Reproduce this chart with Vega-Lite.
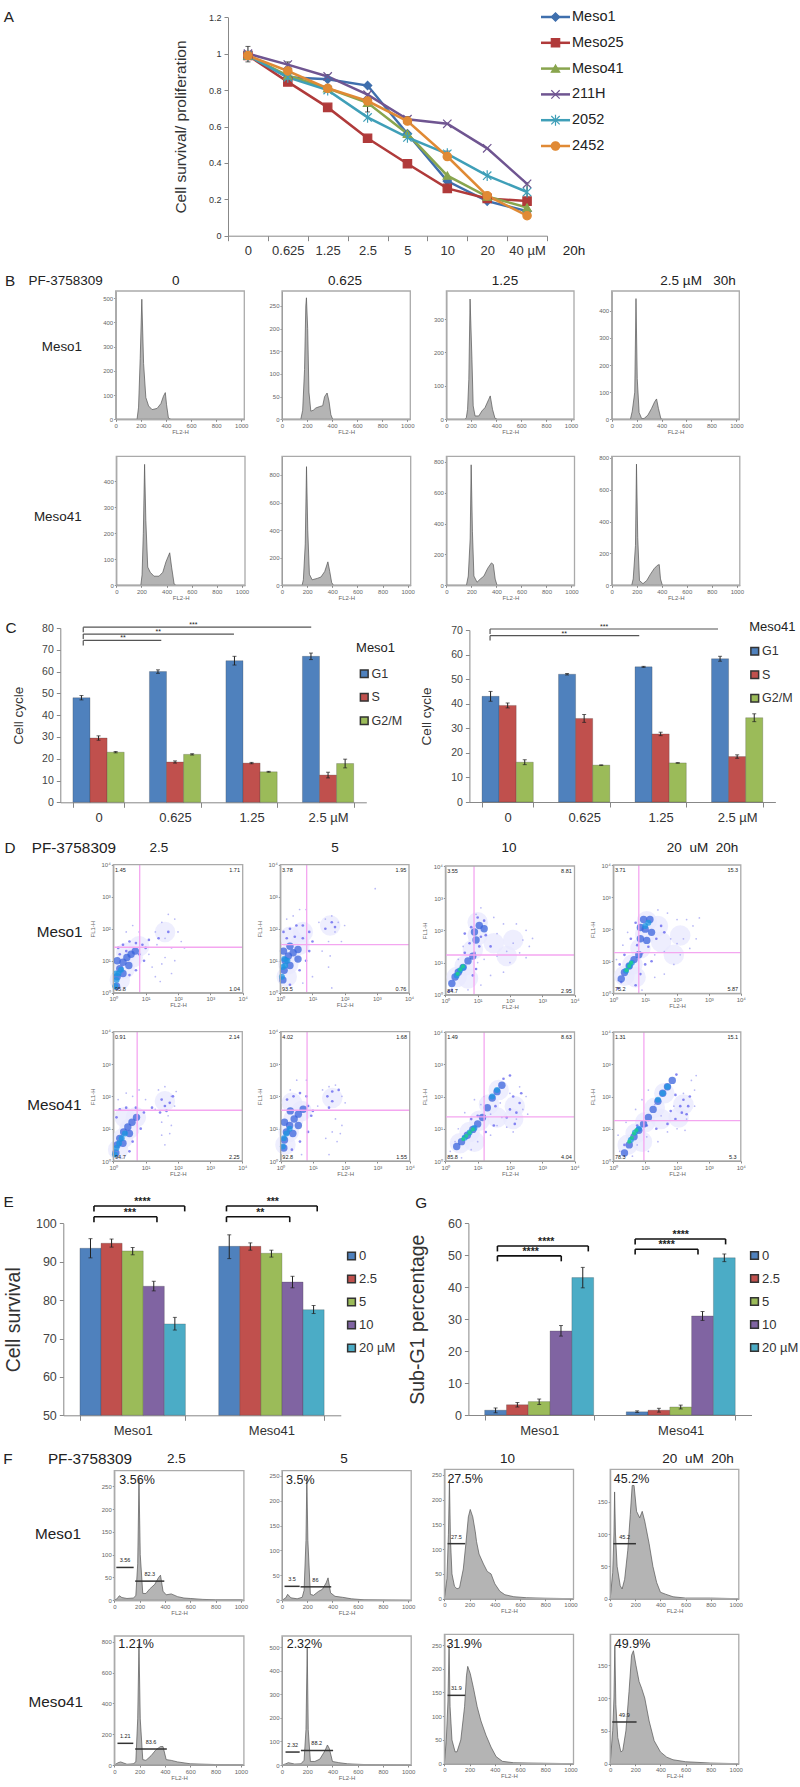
{"$schema":"https://vega.github.io/schema/vega-lite/v6.json","width":800,"height":1787,"autosize":"none","padding":0,"background":"white",
"data":{"values":[{}]},
"config":{"view":{"stroke":null},"font":"Liberation Sans","numberFormat":"~r","axis":{"grid":false,"domainColor":"#888","tickColor":"#888","labelColor":"#444","titleFontWeight":"normal","titleColor":"#333","labelOverlap":false,"labelFlush":false},"text":{"fill":"#222"},
"style":{"hx":{"labelFontSize":6,"labelColor":"#666","tickSize":2,"labelPadding":1,"titleFontSize":6,"titleColor":"#666","titlePadding":0},
"ax":{"labelFontSize":13,"labelColor":"#333","tickSize":5,"labelPadding":4,"labelAngle":0},
"cy":{"labelFontSize":10.5,"labelColor":"#444","tickSize":4,"labelPadding":3,"titleFontSize":13.5},
"ey":{"labelFontSize":12.5,"labelColor":"#444","tickSize":4,"labelPadding":3,"titleFontSize":19.5},
"ay":{"labelFontSize":9,"labelColor":"#333","tickSize":4,"labelPadding":3,"titleFontSize":15.5},
"h17":{"fontSize":13.5},"h19":{"fontSize":15.3},"r17":{"fontSize":13.4,"align":"right"},"r19":{"fontSize":15.3,"align":"right"},"pc":{"fontSize":12.5,"align":"left"},"lg":{"fontSize":13,"align":"left"},"mg":{"fontSize":5.5,"fill":"#ee44ee"},"gt":{"fontSize":5.5,"fill":"#444"},"st":{"fontSize":10.5,"fontWeight":"bold","fill":"#111"},"sc":{"fontSize":7,"fill":"#555"}}},
"resolve":{"scale":{"x":"independent","y":"independent","xOffset":"independent","color":"independent","shape":"independent","fill":"independent","stroke":"independent","size":"independent"},"axis":{"x":"independent","y":"independent"},"legend":{"color":"independent"}},
"datasets":{
"A":[{"c":"0","s":"Meso1","v":0.99},{"c":"0.625","s":"Meso1","v":0.87},{"c":"1.25","s":"Meso1","v":0.86},{"c":"2.5","s":"Meso1","v":0.825},{"c":"5","s":"Meso1","v":0.56},{"c":"10","s":"Meso1","v":0.3},{"c":"20","s":"Meso1","v":0.19},{"c":"40 µM","s":"Meso1","v":0.135},
{"c":"0","s":"Meso25","v":0.99},{"c":"0.625","s":"Meso25","v":0.845},{"c":"1.25","s":"Meso25","v":0.705},{"c":"2.5","s":"Meso25","v":0.535},{"c":"5","s":"Meso25","v":0.395},{"c":"10","s":"Meso25","v":0.26},{"c":"20","s":"Meso25","v":0.205},{"c":"40 µM","s":"Meso25","v":0.19},
{"c":"0","s":"Meso41","v":0.99},{"c":"0.625","s":"Meso41","v":0.88},{"c":"1.25","s":"Meso41","v":0.81},{"c":"2.5","s":"Meso41","v":0.73},{"c":"5","s":"Meso41","v":0.56},{"c":"10","s":"Meso41","v":0.33},{"c":"20","s":"Meso41","v":0.215},{"c":"40 µM","s":"Meso41","v":0.155},
{"c":"0","s":"211H","v":1},{"c":"0.625","s":"211H","v":0.94},{"c":"1.25","s":"211H","v":0.875},{"c":"2.5","s":"211H","v":0.775},{"c":"5","s":"211H","v":0.64},{"c":"10","s":"211H","v":0.615},{"c":"20","s":"211H","v":0.48},{"c":"40 µM","s":"211H","v":0.285},
{"c":"0","s":"2052","v":0.99},{"c":"0.625","s":"2052","v":0.87},{"c":"1.25","s":"2052","v":0.8},{"c":"2.5","s":"2052","v":0.65},{"c":"5","s":"2052","v":0.54},{"c":"10","s":"2052","v":0.45},{"c":"20","s":"2052","v":0.33},{"c":"40 µM","s":"2052","v":0.24},
{"c":"0","s":"2452","v":0.99},{"c":"0.625","s":"2452","v":0.905},{"c":"1.25","s":"2452","v":0.81},{"c":"2.5","s":"2452","v":0.74},{"c":"5","s":"2452","v":0.63},{"c":"10","s":"2452","v":0.435},{"c":"20","s":"2452","v":0.22},{"c":"40 µM","s":"2452","v":0.11}],
"AE":[{"c":"0","lo":0.955,"hi":1.04},{"c":"0.625","lo":0.925,"hi":0.955},{"c":"1.25","lo":0.85,"hi":0.885},{"c":"2.5","lo":0.68,"hi":0.78},{"c":"5","lo":0.62,"hi":0.655},{"c":"10","lo":0.44,"hi":0.465},{"c":"20","lo":0.19,"hi":0.23},{"c":"40 µM","lo":0.1,"hi":0.29}],
"AL":[{"s":"Meso1"},{"s":"Meso25"},{"s":"Meso41"},{"s":"211H"},{"s":"2052"},{"s":"2452"}],
"B1":[{"x":0,"y":0},{"x":170,"y":0},{"x":182,"y":50},{"x":195,"y":250},{"x":208,"y":495},{"x":222,"y":230},{"x":240,"y":90},{"x":262,"y":55},{"x":290,"y":40},{"x":330,"y":45},{"x":360,"y":65},{"x":380,"y":95},{"x":395,"y":110},{"x":405,"y":60},{"x":420,"y":5},{"x":440,"y":0},{"x":1024,"y":0}],
"B2":[{"x":0,"y":0},{"x":150,"y":0},{"x":165,"y":20},{"x":180,"y":110},{"x":190,"y":250},{"x":195,"y":268},{"x":205,"y":200},{"x":215,"y":60},{"x":230,"y":18},{"x":250,"y":20},{"x":270,"y":25},{"x":300,"y":28},{"x":325,"y":30},{"x":340,"y":50},{"x":360,"y":58},{"x":375,"y":40},{"x":390,"y":10},{"x":405,"y":0},{"x":1024,"y":0}],
"B3":[{"x":0,"y":0},{"x":150,"y":0},{"x":160,"y":5},{"x":170,"y":30},{"x":180,"y":120},{"x":190,"y":360},{"x":205,"y":180},{"x":215,"y":40},{"x":230,"y":10},{"x":260,"y":10},{"x":285,"y":25},{"x":310,"y":35},{"x":340,"y":60},{"x":352,"y":70},{"x":370,"y":30},{"x":390,"y":3},{"x":410,"y":0},{"x":1024,"y":0}],
"B4":[{"x":0,"y":0},{"x":150,"y":0},{"x":165,"y":30},{"x":185,"y":100},{"x":195,"y":445},{"x":205,"y":150},{"x":220,"y":25},{"x":240,"y":3},{"x":260,"y":3},{"x":290,"y":15},{"x":320,"y":40},{"x":345,"y":65},{"x":360,"y":75},{"x":375,"y":40},{"x":395,"y":2},{"x":410,"y":0},{"x":1024,"y":0}],
"B5":[{"x":0,"y":0},{"x":195,"y":0},{"x":205,"y":40},{"x":215,"y":200},{"x":225,"y":465},{"x":235,"y":250},{"x":250,"y":70},{"x":270,"y":50},{"x":300,"y":35},{"x":340,"y":35},{"x":370,"y":50},{"x":395,"y":90},{"x":425,"y":125},{"x":440,"y":70},{"x":460,"y":5},{"x":475,"y":0},{"x":1024,"y":0}],
"B6":[{"x":0,"y":0},{"x":160,"y":0},{"x":170,"y":40},{"x":185,"y":300},{"x":195,"y":860},{"x":205,"y":400},{"x":218,"y":80},{"x":240,"y":40},{"x":280,"y":50},{"x":310,"y":60},{"x":340,"y":100},{"x":365,"y":170},{"x":380,"y":100},{"x":395,"y":20},{"x":410,"y":0},{"x":1024,"y":0}],
"B7":[{"x":0,"y":0},{"x":160,"y":0},{"x":175,"y":60},{"x":190,"y":300},{"x":198,"y":780},{"x":208,"y":350},{"x":220,"y":60},{"x":245,"y":20},{"x":270,"y":40},{"x":300,"y":60},{"x":330,"y":110},{"x":360,"y":145},{"x":375,"y":135},{"x":390,"y":40},{"x":405,"y":0},{"x":1024,"y":0}],
"B8":[{"x":0,"y":0},{"x":160,"y":0},{"x":172,"y":40},{"x":190,"y":250},{"x":198,"y":760},{"x":208,"y":300},{"x":222,"y":30},{"x":250,"y":10},{"x":280,"y":30},{"x":310,"y":70},{"x":340,"y":105},{"x":365,"y":125},{"x":380,"y":130},{"x":390,"y":40},{"x":405,"y":0},{"x":1024,"y":0}],
"F1":[{"x":0,"y":0},{"x":20,"y":3},{"x":40,"y":10},{"x":60,"y":6},{"x":100,"y":4},{"x":150,"y":5},{"x":170,"y":10},{"x":185,"y":80},{"x":195,"y":264},{"x":205,"y":100},{"x":225,"y":15},{"x":250,"y":15},{"x":280,"y":25},{"x":320,"y":35},{"x":350,"y":50},{"x":365,"y":55},{"x":385,"y":20},{"x":410,"y":12},{"x":450,"y":14},{"x":500,"y":8},{"x":550,"y":5},{"x":600,"y":4},{"x":700,"y":2},{"x":800,"y":1},{"x":1000,"y":1},{"x":1024,"y":0}],
"F2":[{"x":0,"y":0},{"x":30,"y":5},{"x":45,"y":12},{"x":70,"y":5},{"x":120,"y":3},{"x":160,"y":6},{"x":175,"y":20},{"x":190,"y":120},{"x":197,"y":245},{"x":205,"y":120},{"x":225,"y":12},{"x":250,"y":10},{"x":290,"y":18},{"x":320,"y":22},{"x":350,"y":35},{"x":365,"y":45},{"x":385,"y":15},{"x":420,"y":8},{"x":480,"y":6},{"x":550,"y":3},{"x":650,"y":1},{"x":1024,"y":0}],
"F3":[{"x":0,"y":0},{"x":20,"y":40},{"x":32,"y":130},{"x":40,"y":240},{"x":48,"y":120},{"x":60,"y":50},{"x":80,"y":25},{"x":100,"y":20},{"x":120,"y":22},{"x":150,"y":60},{"x":170,"y":110},{"x":190,"y":165},{"x":205,"y":180},{"x":225,"y":165},{"x":245,"y":135},{"x":255,"y":115},{"x":275,"y":90},{"x":310,"y":70},{"x":340,"y":55},{"x":370,"y":50},{"x":400,"y":30},{"x":440,"y":15},{"x":480,"y":8},{"x":550,"y":4},{"x":650,"y":2},{"x":800,"y":1},{"x":1024,"y":0}],
"F4":[{"x":0,"y":0},{"x":20,"y":40},{"x":30,"y":100},{"x":35,"y":165},{"x":42,"y":100},{"x":55,"y":50},{"x":80,"y":20},{"x":95,"y":15},{"x":115,"y":30},{"x":140,"y":75},{"x":160,"y":130},{"x":175,"y":175},{"x":190,"y":175},{"x":210,"y":135},{"x":235,"y":125},{"x":255,"y":135},{"x":275,"y":120},{"x":310,"y":85},{"x":340,"y":50},{"x":370,"y":25},{"x":400,"y":10},{"x":440,"y":7},{"x":500,"y":3},{"x":600,"y":1},{"x":800,"y":1},{"x":1024,"y":0}],
"F5":[{"x":0,"y":0},{"x":30,"y":15},{"x":50,"y":20},{"x":100,"y":5},{"x":150,"y":8},{"x":170,"y":20},{"x":185,"y":300},{"x":195,"y":790},{"x":205,"y":300},{"x":225,"y":35},{"x":250,"y":30},{"x":290,"y":60},{"x":330,"y":100},{"x":365,"y":120},{"x":385,"y":120},{"x":410,"y":35},{"x":450,"y":30},{"x":500,"y":20},{"x":600,"y":8},{"x":800,"y":3},{"x":1000,"y":2},{"x":1024,"y":0}],
"F6":[{"x":0,"y":0},{"x":30,"y":5},{"x":50,"y":10},{"x":100,"y":4},{"x":150,"y":5},{"x":175,"y":20},{"x":190,"y":150},{"x":200,"y":500},{"x":208,"y":150},{"x":225,"y":15},{"x":260,"y":15},{"x":300,"y":25},{"x":340,"y":60},{"x":360,"y":85},{"x":375,"y":70},{"x":400,"y":15},{"x":450,"y":10},{"x":520,"y":5},{"x":650,"y":2},{"x":1024,"y":0}],
"F7":[{"x":0,"y":0},{"x":15,"y":50},{"x":28,"y":130},{"x":37,"y":250},{"x":45,"y":120},{"x":60,"y":50},{"x":85,"y":25},{"x":100,"y":25},{"x":130,"y":50},{"x":160,"y":120},{"x":175,"y":185},{"x":185,"y":205},{"x":205,"y":190},{"x":230,"y":160},{"x":260,"y":120},{"x":290,"y":90},{"x":330,"y":60},{"x":370,"y":35},{"x":410,"y":15},{"x":460,"y":5},{"x":550,"y":2},{"x":1024,"y":0}],
"F8":[{"x":0,"y":0},{"x":20,"y":50},{"x":30,"y":100},{"x":37,"y":180},{"x":45,"y":90},{"x":60,"y":40},{"x":85,"y":18},{"x":100,"y":20},{"x":125,"y":50},{"x":150,"y":110},{"x":170,"y":165},{"x":185,"y":172},{"x":205,"y":150},{"x":230,"y":125},{"x":250,"y":115},{"x":275,"y":100},{"x":310,"y":65},{"x":350,"y":35},{"x":400,"y":18},{"x":450,"y":10},{"x":500,"y":6},{"x":600,"y":3},{"x":800,"y":1},{"x":1024,"y":0}],
"C1":[{"c":"0","s":"G1","v":48,"lo":47,"hi":49},{"c":"0","s":"S","v":29.5,"lo":28.5,"hi":30.5},{"c":"0","s":"G2/M","v":23,"lo":22.7,"hi":23.3},{"c":"0.625","s":"G1","v":60,"lo":59.2,"hi":60.8},{"c":"0.625","s":"S","v":18.5,"lo":18,"hi":19},{"c":"0.625","s":"G2/M","v":22,"lo":21.7,"hi":22.3},{"c":"1.25","s":"G1","v":65,"lo":63,"hi":67},{"c":"1.25","s":"S","v":18,"lo":17.7,"hi":18.3},{"c":"1.25","s":"G2/M","v":14,"lo":13.8,"hi":14.2},{"c":"2.5 µM","s":"G1","v":67,"lo":65.5,"hi":68.5},{"c":"2.5 µM","s":"S","v":12.5,"lo":11.2,"hi":13.8},{"c":"2.5 µM","s":"G2/M","v":17.8,"lo":15.8,"hi":19.8}],
"C2":[{"c":"0","s":"G1","v":43,"lo":41,"hi":45},{"c":"0","s":"S","v":39.3,"lo":38.3,"hi":40.3},{"c":"0","s":"G2/M","v":16.2,"lo":15.2,"hi":17.2},{"c":"0.625","s":"G1","v":52,"lo":51.7,"hi":52.3},{"c":"0.625","s":"S","v":34,"lo":32.4,"hi":35.6},{"c":"0.625","s":"G2/M","v":15,"lo":14.9,"hi":15.1},{"c":"1.25","s":"G1","v":55,"lo":54.8,"hi":55.2},{"c":"1.25","s":"S","v":27.7,"lo":27,"hi":28.4},{"c":"1.25","s":"G2/M","v":15.9,"lo":15.8,"hi":16},{"c":"2.5 µM","s":"G1","v":58.3,"lo":57.3,"hi":59.3},{"c":"2.5 µM","s":"S","v":18.5,"lo":17.8,"hi":19.2},{"c":"2.5 µM","s":"G2/M","v":34.3,"lo":32.7,"hi":35.9}],
"E":[{"c":"Meso1","s":"0","v":93.5,"lo":91,"hi":96},{"c":"Meso1","s":"2.5","v":94.8,"lo":93.8,"hi":95.9},{"c":"Meso1","s":"5","v":92.8,"lo":91.8,"hi":93.7},{"c":"Meso1","s":"10","v":83.6,"lo":82.4,"hi":84.9},{"c":"Meso1","s":"20 µM","v":73.8,"lo":72.2,"hi":75.5},{"c":"Meso41","s":"0","v":94,"lo":90.8,"hi":97},{"c":"Meso41","s":"2.5","v":94,"lo":93,"hi":94.9},{"c":"Meso41","s":"5","v":92.2,"lo":91.2,"hi":93},{"c":"Meso41","s":"10","v":84.7,"lo":83.2,"hi":86.2},{"c":"Meso41","s":"20 µM","v":77.5,"lo":76.5,"hi":78.6}],
"G":[{"c":"Meso1","s":"0","v":1.5,"lo":0.7,"hi":2.2},{"c":"Meso1","s":"2.5","v":3.2,"lo":2.5,"hi":3.9},{"c":"Meso1","s":"5","v":4.2,"lo":3.3,"hi":5},{"c":"Meso1","s":"10","v":26.3,"lo":24.7,"hi":28},{"c":"Meso1","s":"20 µM","v":43,"lo":39.8,"hi":46.2},{"c":"Meso41","s":"0","v":1,"lo":0.8,"hi":1.3},{"c":"Meso41","s":"2.5","v":1.5,"lo":0.9,"hi":2.1},{"c":"Meso41","s":"5","v":2.5,"lo":1.9,"hi":3.1},{"c":"Meso41","s":"10","v":31,"lo":29.6,"hi":32.4},{"c":"Meso41","s":"20 µM","v":49.2,"lo":48,"hi":50.4}],
"D1":[{"x":0.2,"y":0.4,"d":0},{"x":0.35,"y":0.75,"d":0},{"x":0.6,"y":1.1,"d":0},{"x":0.4,"y":1.25,"d":0},{"x":0.8,"y":1.45,"d":0},{"x":1.6,"y":1.9,"d":0},
{"x":1.3,"y":1.9,"d":1},{"x":1.5,"y":2.2,"d":1},{"x":1.7,"y":2.45,"d":1},{"x":1.9,"y":2.3,"d":1},{"x":1.6,"y":1.7,"d":1},{"x":2,"y":1.9,"d":1},{"x":1.35,"y":1.5,"d":1},{"x":1.8,"y":1.4,"d":1},{"x":2.1,"y":1.6,"d":1},{"x":1.5,"y":0.9,"d":1},{"x":1.3,"y":0.5,"d":1},{"x":1.8,"y":0.6,"d":1},{"x":1.9,"y":1,"d":1},{"x":1.1,"y":1.2,"d":1},{"x":2.2,"y":1.4,"d":1},{"x":1.2,"y":0.8,"d":1},{"x":0.6,"y":2.1,"d":1},{"x":0.4,"y":1.9,"d":1},{"x":0.8,"y":1.9,"d":1},{"x":1.6,"y":1.1,"d":1},{"x":1.45,"y":0.35,"d":1},
{"x":0.15,"y":1.4,"d":2},{"x":0.3,"y":1.5,"d":2},{"x":0.5,"y":1.6,"d":2},{"x":0.7,"y":1.55,"d":2},{"x":0.9,"y":1.5,"d":2},{"x":0.2,"y":1.2,"d":2},{"x":0.4,"y":1.3,"d":2},{"x":0.8,"y":1.2,"d":2},{"x":1,"y":1.4,"d":2},{"x":1.4,"y":1.7,"d":2},{"x":1.7,"y":1.9,"d":2},{"x":0.95,"y":1,"d":2},{"x":0.7,"y":0.7,"d":2},{"x":0.5,"y":0.55,"d":2},{"x":1.1,"y":1.65,"d":2},
{"x":0.1,"y":0.2,"d":3},{"x":0.12,"y":0.5,"d":3},{"x":0.2,"y":0.75,"d":3},{"x":0.3,"y":0.95,"d":3},{"x":0.42,"y":1.1,"d":3},{"x":0.55,"y":1.2,"d":3},{"x":0.68,"y":1.3,"d":3},{"x":0.3,"y":0.6,"d":3},{"x":0.48,"y":0.85,"d":3},{"x":0.12,"y":1,"d":3},
{"x":0.06,"y":0.2,"d":4},{"x":0.1,"y":0.4,"d":4},{"x":0.16,"y":0.6,"d":4},{"x":0.24,"y":0.72,"d":4},{"x":0.08,"y":0.6,"d":4}],
"D2":[{"x":0.2,"y":0.5,"d":0},{"x":0.25,"y":0.9,"d":0},{"x":0.35,"y":1.3,"d":0},{"x":0.6,"y":1.5,"d":0},{"x":0.7,"y":1.9,"d":0},{"x":0.3,"y":1.75,"d":0},{"x":1.55,"y":2.1,"d":0},
{"x":1.2,"y":2.2,"d":1},{"x":1.4,"y":2.3,"d":1},{"x":1.6,"y":2.4,"d":1},{"x":1.8,"y":2.2,"d":1},{"x":2,"y":2.1,"d":1},{"x":1.7,"y":1.9,"d":1},{"x":1.5,"y":1.6,"d":1},{"x":1.3,"y":1.3,"d":1},{"x":1.5,"y":0.8,"d":1},{"x":1,"y":0.5,"d":1},{"x":1.6,"y":0.15,"d":1},{"x":2.95,"y":3.25,"d":1},{"x":0.8,"y":2.6,"d":1},{"x":0.4,"y":2.4,"d":1},{"x":0.2,"y":2.3,"d":1},{"x":0.7,"y":0.3,"d":1},{"x":1.9,"y":1.6,"d":1},{"x":0.6,"y":2.6,"d":1},{"x":1.55,"y":1.15,"d":1},
{"x":0.1,"y":1.9,"d":2},{"x":0.3,"y":2,"d":2},{"x":0.5,"y":2.1,"d":2},{"x":0.7,"y":2.1,"d":2},{"x":0.9,"y":1.9,"d":2},{"x":0.2,"y":1.7,"d":2},{"x":0.45,"y":1.75,"d":2},{"x":0.7,"y":1.7,"d":2},{"x":1,"y":1.6,"d":2},{"x":0.9,"y":1.3,"d":2},{"x":1.4,"y":2,"d":2},{"x":1.7,"y":2.05,"d":2},{"x":1.6,"y":2.2,"d":2},{"x":0.8,"y":1,"d":2},{"x":0.6,"y":0.7,"d":2},{"x":0.3,"y":0.25,"d":2},
{"x":0.08,"y":0.4,"d":3},{"x":0.12,"y":0.7,"d":3},{"x":0.15,"y":1,"d":3},{"x":0.25,"y":1.15,"d":3},{"x":0.4,"y":1.25,"d":3},{"x":0.55,"y":1.35,"d":3},{"x":0.3,"y":0.85,"d":3},{"x":0.1,"y":1.3,"d":3},{"x":0.3,"y":1.45,"d":3},{"x":0.55,"y":1.05,"d":3},
{"x":0.05,"y":0.5,"d":4},{"x":0.08,"y":0.8,"d":4},{"x":0.15,"y":0.85,"d":4},{"x":0.22,"y":1,"d":4},{"x":0.12,"y":1.05,"d":4}],
"D3":[{"x":0.35,"y":0.55,"d":0},{"x":0.6,"y":0.9,"d":0},{"x":0.85,"y":1.4,"d":0},{"x":1,"y":1.85,"d":0},{"x":1,"y":2.25,"d":0},{"x":1.5,"y":1.6,"d":0},{"x":2.1,"y":1.7,"d":0},{"x":1.9,"y":1.2,"d":0},{"x":0.7,"y":0.5,"d":0},
{"x":1.5,"y":2.4,"d":1},{"x":1.1,"y":2.7,"d":1},{"x":0.95,"y":2.5,"d":1},{"x":1.8,"y":2.2,"d":1},{"x":2.2,"y":2.2,"d":1},{"x":2.5,"y":2,"d":1},{"x":2.6,"y":1.5,"d":1},{"x":2.3,"y":1.3,"d":1},{"x":2,"y":1,"d":1},{"x":1.8,"y":0.7,"d":1},{"x":1.4,"y":0.6,"d":1},{"x":1.1,"y":0.3,"d":1},{"x":0.7,"y":0.15,"d":1},{"x":0.55,"y":1.5,"d":1},{"x":0.4,"y":1.1,"d":1},{"x":1.6,"y":1.9,"d":1},{"x":2.7,"y":1.75,"d":1},{"x":2.4,"y":1.7,"d":1},{"x":1.6,"y":1.2,"d":1},{"x":2.1,"y":1.6,"d":1},{"x":1.2,"y":1.1,"d":1},{"x":1.9,"y":1.35,"d":1},{"x":2.5,"y":1.15,"d":1},{"x":1,"y":1,"d":1},
{"x":0.6,"y":1.9,"d":2},{"x":0.8,"y":2.1,"d":2},{"x":0.75,"y":1.6,"d":2},{"x":1,"y":2.4,"d":2},{"x":1.2,"y":2.3,"d":2},{"x":1.25,"y":1.85,"d":2},{"x":1.05,"y":1.5,"d":2},{"x":0.9,"y":1.3,"d":2},{"x":1.1,"y":1.8,"d":2},{"x":0.95,"y":0.8,"d":2},{"x":0.1,"y":0.1,"d":2},{"x":0.2,"y":0.15,"d":2},{"x":0.85,"y":0.6,"d":2},{"x":1.4,"y":1.5,"d":2},{"x":0.6,"y":1.3,"d":2},
{"x":0.2,"y":0.35,"d":3},{"x":0.3,"y":0.55,"d":3},{"x":0.4,"y":0.7,"d":3},{"x":0.55,"y":0.85,"d":3},{"x":0.7,"y":1.05,"d":3},{"x":0.85,"y":1.2,"d":3},{"x":0.9,"y":1.95,"d":3},{"x":1.05,"y":2.15,"d":3},{"x":1.2,"y":2.05,"d":3},{"x":0.95,"y":1.7,"d":3},
{"x":0.35,"y":0.6,"d":4},{"x":0.45,"y":0.75,"d":4},{"x":0.55,"y":0.85,"d":4},{"x":0.38,"y":0.65,"d":5},{"x":0.46,"y":0.78,"d":5},{"x":0.54,"y":0.88,"d":5}],
"D4":[{"x":0.35,"y":0.55,"d":0},{"x":0.6,"y":0.9,"d":0},{"x":0.85,"y":1.4,"d":0},{"x":1,"y":1.85,"d":0},{"x":1.05,"y":2.25,"d":0},{"x":1.5,"y":1.6,"d":0},{"x":2.1,"y":1.8,"d":0},{"x":1.9,"y":1.2,"d":0},{"x":0.7,"y":0.5,"d":0},{"x":1.4,"y":2.1,"d":0},
{"x":1.4,"y":2.6,"d":1},{"x":1.7,"y":2.5,"d":1},{"x":2,"y":2.3,"d":1},{"x":2.3,"y":2.3,"d":1},{"x":2.5,"y":2.1,"d":1},{"x":2.6,"y":1.7,"d":1},{"x":2.4,"y":1.4,"d":1},{"x":2.1,"y":1.2,"d":1},{"x":1.9,"y":0.9,"d":1},{"x":1.6,"y":0.6,"d":1},{"x":1.3,"y":0.5,"d":1},{"x":0.9,"y":0.1,"d":1},{"x":0.3,"y":1.5,"d":1},{"x":0.45,"y":1.9,"d":1},{"x":1.8,"y":1.7,"d":1},{"x":2.2,"y":1.7,"d":1},{"x":1.6,"y":1.3,"d":1},{"x":1.3,"y":1.2,"d":1},{"x":2.7,"y":2.35,"d":1},{"x":2,"y":1.55,"d":1},{"x":0.1,"y":1.05,"d":1},{"x":0.15,"y":0.4,"d":1},
{"x":0.7,"y":2.2,"d":2},{"x":0.55,"y":1.7,"d":2},{"x":0.75,"y":1.5,"d":2},{"x":1.5,"y":2.1,"d":2},{"x":1.35,"y":1.7,"d":2},{"x":1.1,"y":1.45,"d":2},{"x":0.9,"y":1.25,"d":2},{"x":1,"y":0.9,"d":2},{"x":0.85,"y":0.6,"d":2},{"x":0.2,"y":0.9,"d":2},{"x":0.15,"y":0.15,"d":2},{"x":0.35,"y":1.2,"d":2},{"x":1.6,"y":1.9,"d":2},{"x":0.7,"y":0.25,"d":2},{"x":1.2,"y":1,"d":2},{"x":0.25,"y":0.35,"d":2},
{"x":0.25,"y":0.45,"d":3},{"x":0.35,"y":0.65,"d":3},{"x":0.5,"y":0.85,"d":3},{"x":0.65,"y":1.05,"d":3},{"x":0.8,"y":1.2,"d":3},{"x":0.85,"y":1.7,"d":3},{"x":1,"y":2,"d":3},{"x":1.15,"y":2.3,"d":3},{"x":1.2,"y":1.9,"d":3},{"x":0.95,"y":2.3,"d":3},{"x":0.85,"y":2.05,"d":3},{"x":1.05,"y":1.65,"d":3},
{"x":0.4,"y":0.7,"d":4},{"x":0.5,"y":0.85,"d":4},{"x":0.58,"y":0.95,"d":4},{"x":1,"y":2.1,"d":4},{"x":1.1,"y":2.2,"d":4},{"x":0.42,"y":0.72,"d":5},{"x":0.5,"y":0.85,"d":5},{"x":0.56,"y":0.95,"d":5}],
"D5":[{"x":0.15,"y":0.35,"d":0},{"x":0.3,"y":0.7,"d":0},{"x":0.5,"y":1,"d":0},{"x":0.7,"y":1.35,"d":0},{"x":0.35,"y":1.35,"d":0},{"x":1.6,"y":1.85,"d":0},
{"x":1.4,"y":2.2,"d":1},{"x":1.6,"y":2.3,"d":1},{"x":1.8,"y":2,"d":1},{"x":1.9,"y":1.7,"d":1},{"x":1.5,"y":1.2,"d":1},{"x":1.7,"y":1.4,"d":1},{"x":1.5,"y":0.8,"d":1},{"x":1.8,"y":1.1,"d":1},{"x":0.6,"y":2,"d":1},{"x":0.4,"y":2.1,"d":1},{"x":0.8,"y":2.2,"d":1},{"x":1.6,"y":0.5,"d":1},{"x":1.3,"y":1.6,"d":1},{"x":1,"y":1.9,"d":1},{"x":1.75,"y":0.85,"d":1},{"x":0.15,"y":1.9,"d":1},{"x":1.95,"y":2.15,"d":1},
{"x":1.5,"y":1.9,"d":2},{"x":1.6,"y":1.7,"d":2},{"x":1.75,"y":1.8,"d":2},{"x":1.85,"y":2,"d":2},{"x":0.2,"y":1.6,"d":2},{"x":0.4,"y":1.65,"d":2},{"x":0.7,"y":1.65,"d":2},{"x":0.95,"y":1.5,"d":2},{"x":1.2,"y":1.65,"d":2},{"x":0.85,"y":1,"d":2},{"x":0.6,"y":0.6,"d":2},{"x":0.5,"y":0.3,"d":2},{"x":0.1,"y":1.35,"d":2},{"x":1.45,"y":1.5,"d":2},{"x":1.65,"y":1.55,"d":2},
{"x":0.08,"y":0.25,"d":3},{"x":0.12,"y":0.5,"d":3},{"x":0.2,"y":0.7,"d":3},{"x":0.32,"y":0.9,"d":3},{"x":0.45,"y":1.05,"d":3},{"x":0.58,"y":1.2,"d":3},{"x":0.72,"y":1.35,"d":3},{"x":0.3,"y":0.55,"d":3},{"x":0.5,"y":0.85,"d":3},
{"x":0.05,"y":0.2,"d":4},{"x":0.1,"y":0.4,"d":4},{"x":0.18,"y":0.55,"d":4},{"x":0.26,"y":0.7,"d":4},{"x":0.36,"y":0.85,"d":4}],
"D6":[{"x":0.15,"y":0.5,"d":0},{"x":0.25,"y":0.9,"d":0},{"x":0.4,"y":1.3,"d":0},{"x":0.65,"y":1.55,"d":0},{"x":0.35,"y":1.8,"d":0},{"x":1.6,"y":1.95,"d":0},
{"x":1.3,"y":2.2,"d":1},{"x":1.5,"y":2.3,"d":1},{"x":1.7,"y":2.35,"d":1},{"x":1.9,"y":2,"d":1},{"x":1.7,"y":1.3,"d":1},{"x":1.9,"y":1.1,"d":1},{"x":1.6,"y":0.9,"d":1},{"x":1.5,"y":0.2,"d":1},{"x":1.4,"y":0.7,"d":1},{"x":0.5,"y":2.5,"d":1},{"x":0.8,"y":2.5,"d":1},{"x":0.3,"y":2.2,"d":1},{"x":1.75,"y":0.6,"d":1},{"x":2,"y":1.8,"d":1},{"x":0.65,"y":0.2,"d":1},{"x":1.15,"y":1.7,"d":1},{"x":1.85,"y":0.85,"d":1},
{"x":1.45,"y":2,"d":2},{"x":1.6,"y":2.15,"d":2},{"x":1.8,"y":2.2,"d":2},{"x":1.6,"y":1.85,"d":2},{"x":0.2,"y":1.9,"d":2},{"x":0.4,"y":2,"d":2},{"x":0.6,"y":2.1,"d":2},{"x":0.8,"y":2,"d":2},{"x":0.85,"y":1.7,"d":2},{"x":0.95,"y":1.4,"d":2},{"x":0.85,"y":0.9,"d":2},{"x":0.6,"y":0.6,"d":2},{"x":0.35,"y":0.35,"d":2},{"x":1.5,"y":1.65,"d":2},{"x":1,"y":1.55,"d":2},
{"x":0.1,"y":0.4,"d":3},{"x":0.12,"y":0.65,"d":3},{"x":0.18,"y":0.9,"d":3},{"x":0.28,"y":1.1,"d":3},{"x":0.42,"y":1.3,"d":3},{"x":0.55,"y":1.45,"d":3},{"x":0.7,"y":1.6,"d":3},{"x":0.12,"y":1.2,"d":3},{"x":0.3,"y":1.55,"d":3},{"x":0.55,"y":1.1,"d":3},{"x":0.38,"y":0.85,"d":3},
{"x":0.07,"y":0.45,"d":4},{"x":0.1,"y":0.7,"d":4},{"x":0.18,"y":0.85,"d":4},{"x":0.28,"y":1,"d":4}],
"D7":[{"x":0.45,"y":0.55,"d":0},{"x":0.75,"y":0.9,"d":0},{"x":1.05,"y":1.25,"d":0},{"x":1.35,"y":1.75,"d":0},{"x":1.65,"y":2.2,"d":0},{"x":2.15,"y":1.7,"d":0},{"x":2.1,"y":1.3,"d":0},{"x":1.6,"y":1.35,"d":0},{"x":0.9,"y":0.6,"d":0},
{"x":0.9,"y":1.9,"d":1},{"x":0.6,"y":1.5,"d":1},{"x":0.4,"y":1,"d":1},{"x":0.15,"y":0.3,"d":1},{"x":0.5,"y":0.1,"d":1},{"x":1,"y":0.6,"d":1},{"x":1.4,"y":0.8,"d":1},{"x":1.6,"y":1.1,"d":1},{"x":1.9,"y":1.05,"d":1},{"x":2.2,"y":1.3,"d":1},{"x":2.4,"y":1.6,"d":1},{"x":2.5,"y":2,"d":1},{"x":2.3,"y":2.3,"d":1},{"x":2,"y":2.1,"d":1},{"x":1.7,"y":1.8,"d":1},{"x":1.4,"y":1.45,"d":1},{"x":1.2,"y":2,"d":1},{"x":2.1,"y":0.9,"d":1},{"x":2.55,"y":1.45,"d":1},{"x":0.8,"y":0.35,"d":1},{"x":0.3,"y":0.6,"d":1},{"x":1.75,"y":1.35,"d":1},{"x":1.1,"y":1.75,"d":1},
{"x":2.1,"y":2,"d":2},{"x":2.3,"y":1.8,"d":2},{"x":2.2,"y":1.5,"d":2},{"x":2,"y":1.6,"d":2},{"x":1.9,"y":1.35,"d":2},{"x":2.35,"y":2.1,"d":2},{"x":1.5,"y":1.1,"d":2},{"x":1.25,"y":0.9,"d":2},{"x":0.8,"y":1.3,"d":2},{"x":0.55,"y":0.75,"d":2},{"x":1,"y":1.4,"d":2},{"x":1.8,"y":2.55,"d":2},{"x":2,"y":2.65,"d":2},{"x":1.55,"y":1.7,"d":2},{"x":2.15,"y":1.15,"d":2},
{"x":0.35,"y":0.45,"d":3},{"x":0.5,"y":0.6,"d":3},{"x":0.68,"y":0.8,"d":3},{"x":0.85,"y":0.98,"d":3},{"x":1,"y":1.15,"d":3},{"x":1.15,"y":1.35,"d":3},{"x":1.3,"y":1.65,"d":3},{"x":1.45,"y":1.95,"d":3},{"x":1.6,"y":2.15,"d":3},{"x":1.75,"y":2.35,"d":3},
{"x":0.6,"y":0.72,"d":4},{"x":0.75,"y":0.88,"d":4},{"x":0.9,"y":1.02,"d":4},{"x":1.45,"y":2,"d":4},{"x":1.6,"y":2.2,"d":4},{"x":0.55,"y":0.68,"d":5},{"x":0.65,"y":0.78,"d":5},{"x":0.75,"y":0.88,"d":5},{"x":0.85,"y":0.98,"d":5}],
"D8":[{"x":0.45,"y":0.5,"d":0},{"x":0.7,"y":0.85,"d":0},{"x":1,"y":1.2,"d":0},{"x":1.3,"y":1.65,"d":0},{"x":1.6,"y":2.1,"d":0},{"x":2.2,"y":1.75,"d":0},{"x":2.05,"y":1.35,"d":0},{"x":1.5,"y":1.3,"d":0},{"x":0.9,"y":0.6,"d":0},
{"x":0.4,"y":1.2,"d":1},{"x":0.7,"y":1.6,"d":1},{"x":0.9,"y":1.9,"d":1},{"x":1.1,"y":2.2,"d":1},{"x":0.2,"y":0.3,"d":1},{"x":0.6,"y":0.15,"d":1},{"x":1.1,"y":0.3,"d":1},{"x":1.4,"y":0.6,"d":1},{"x":1.7,"y":0.9,"d":1},{"x":2,"y":1,"d":1},{"x":2.3,"y":1.3,"d":1},{"x":2.55,"y":1.7,"d":1},{"x":2.55,"y":2.2,"d":1},{"x":2.45,"y":2.5,"d":1},{"x":2.2,"y":2.1,"d":1},{"x":1.9,"y":1.7,"d":1},{"x":1.5,"y":1.4,"d":1},{"x":1.3,"y":1.75,"d":1},{"x":2.6,"y":2.65,"d":1},{"x":1.05,"y":0.75,"d":1},{"x":0.75,"y":0.5,"d":1},{"x":2.25,"y":0.95,"d":1},{"x":0.15,"y":0.8,"d":1},
{"x":2.2,"y":1.9,"d":2},{"x":2.35,"y":1.7,"d":2},{"x":2.15,"y":1.5,"d":2},{"x":1.95,"y":1.3,"d":2},{"x":2.4,"y":2,"d":2},{"x":2.3,"y":1.45,"d":2},{"x":1.7,"y":1.15,"d":2},{"x":1.35,"y":1,"d":2},{"x":1.05,"y":1.1,"d":2},{"x":0.75,"y":1.1,"d":2},{"x":0.55,"y":0.7,"d":2},{"x":0.35,"y":0.5,"d":2},{"x":1.95,"y":2.05,"d":2},{"x":2.1,"y":1.7,"d":2},{"x":1.8,"y":1.55,"d":2},{"x":1.98,"y":2.68,"d":2},
{"x":0.35,"y":0.25,"d":3},{"x":0.5,"y":0.5,"d":3},{"x":0.65,"y":0.75,"d":3},{"x":0.8,"y":0.95,"d":3},{"x":0.95,"y":1.15,"d":3},{"x":1.1,"y":1.35,"d":3},{"x":1.25,"y":1.6,"d":3},{"x":1.4,"y":1.85,"d":3},{"x":1.55,"y":2.1,"d":3},{"x":1.7,"y":2.3,"d":3},{"x":1.85,"y":2.5,"d":3},
{"x":0.55,"y":0.65,"d":4},{"x":0.68,"y":0.88,"d":4},{"x":1.4,"y":1.9,"d":4},{"x":1.55,"y":2.1,"d":4},{"x":1.7,"y":2.3,"d":4},{"x":0.8,"y":1,"d":4},{"x":0.5,"y":0.6,"d":5},{"x":0.58,"y":0.72,"d":5},{"x":0.65,"y":0.85,"d":5},{"x":0.72,"y":0.95,"d":5}]
},
"layer":[
{"layer":[
{"data":{"name":"AE"},"mark":{"type":"errorbar","color":"#222","ticks":{"size":5}},"encoding":{"x":{"field":"c","type":"nominal","sort":null,"scale":{"type":"band","domain":["0","0.625","1.25","2.5","5","10","20","40 µM"],"range":[228,547],"paddingInner":0,"paddingOuter":0},"axis":{"orient":"bottom","offset":-1551.3,"tickBand":"extent","style":"ax","title":null}},"y":{"field":"lo","type":"quantitative","scale":{"domain":[0,1.2],"range":[235.7,17.3],"nice":false},"axis":{"orient":"left","offset":-228,"style":"ay","values":[0,0.2,0.4,0.6,0.8,1,1.2],"title":"Cell survival/ proliferation","titleX":-40}},"y2":{"field":"hi"}}},
{"data":{"name":"A"},"mark":{"type":"line","strokeWidth":2.5},"encoding":{"x":{"field":"c","type":"nominal"},"y":{"field":"v","type":"quantitative"},"color":{"field":"s","type":"nominal","scale":{"domain":["Meso1","Meso25","Meso41","211H","2052","2452"],"range":["#3f6fad","#b03a3a","#89a54e","#6f5591","#3f9fb8","#e08a35"]},"legend":null}}},
{"data":{"name":"A"},"mark":{"type":"point","filled":true,"size":70,"strokeWidth":1.2,"opacity":1},"encoding":{"x":{"field":"c","type":"nominal"},"y":{"field":"v","type":"quantitative"},"shape":{"field":"s","type":"nominal","scale":{"domain":["Meso1","Meso25","Meso41","211H","2052","2452"],"range":["diamond","square","triangle-up","M-1,-1L1,1M-1,1L1,-1","M-1,-1L1,1M-1,1L1,-1M0,-1.3L0,1.3","circle"]},"legend":null},"fill":{"field":"s","type":"nominal","scale":{"domain":["Meso1","Meso25","Meso41","211H","2052","2452"],"range":["#3f6fad","#b03a3a","#89a54e","#6f5591","#3f9fb8","#e08a35"]},"legend":null},"stroke":{"field":"s","type":"nominal","scale":{"domain":["Meso1","Meso25","Meso41","211H","2052","2452"],"range":["#3f6fad","#b03a3a","#89a54e","#6f5591","#3f9fb8","#e08a35"]},"legend":null}}},
{"mark":{"type":"text","text":"A","style":"h19","dx":-239},"encoding":{"x":{"datum":"0","type":"nominal"},"y":{"datum":1.2}}},
{"mark":{"type":"text","text":"20h","style":"h17","dx":47,"dy":15},"encoding":{"x":{"datum":"40 µM","type":"nominal"},"y":{"datum":0}}}
]},
{"data":{"name":"AL"},"layer":[
{"mark":{"type":"rule","strokeWidth":2.5},"encoding":{"x":{"datum":0,"scale":{"domain":[0,1],"range":[541,570]},"axis":null},"x2":{"datum":1},"y":{"field":"s","type":"nominal","sort":null,"scale":{"type":"point","padding":0,"domain":["Meso1","Meso25","Meso41","211H","2052","2452"],"range":[17,146]},"axis":null},"color":{"field":"s","type":"nominal","scale":{"domain":["Meso1","Meso25","Meso41","211H","2052","2452"],"range":["#3f6fad","#b03a3a","#89a54e","#6f5591","#3f9fb8","#e08a35"]},"legend":null}}},
{"mark":{"type":"point","filled":true,"size":70,"strokeWidth":1.2,"opacity":1},"encoding":{"x":{"datum":0.5},"y":{"field":"s","type":"nominal"},"shape":{"field":"s","type":"nominal","scale":{"domain":["Meso1","Meso25","Meso41","211H","2052","2452"],"range":["diamond","square","triangle-up","M-1,-1L1,1M-1,1L1,-1","M-1,-1L1,1M-1,1L1,-1M0,-1.3L0,1.3","circle"]},"legend":null},"fill":{"field":"s","type":"nominal","scale":{"domain":["Meso1","Meso25","Meso41","211H","2052","2452"],"range":["#3f6fad","#b03a3a","#89a54e","#6f5591","#3f9fb8","#e08a35"]},"legend":null},"stroke":{"field":"s","type":"nominal","scale":{"domain":["Meso1","Meso25","Meso41","211H","2052","2452"],"range":["#3f6fad","#b03a3a","#89a54e","#6f5591","#3f9fb8","#e08a35"]},"legend":null}}},
{"mark":{"type":"text","style":"lg","dx":2,"fontSize":14.5},"encoding":{"x":{"datum":1},"y":{"field":"s","type":"nominal"},"text":{"field":"s"}}}
]},
{"layer":[{"data":{"name":"B1"},"mark":{"type":"area","fill":"#b4b4b4","stroke":"#555","strokeWidth":0.7},"encoding":{"x":{"field":"x","type":"quantitative","scale":{"domain":[0,1024],"range":[115.7,244.3],"nice":false},"axis":{"orient":"bottom","offset":-1367.7,"style":"hx","values":[0,200,400,600,800,1000],"title":"FL2-H"}},"y":{"field":"y","type":"quantitative","scale":{"domain":[0,529],"range":[419.3,291],"nice":false},"axis":{"orient":"left","offset":-115.7,"style":"hx","values":[0,100,200,300,400,500],"title":null}}}},
{"mark":{"type":"rect","fill":"transparent","stroke":"#aaa","strokeWidth":1.3},"encoding":{"x":{"datum":0},"x2":{"datum":1024},"y":{"datum":0},"y2":{"datum":529}}},
{"mark":{"type":"text","text":"B","style":"h19","dx":-105.7,"dy":-10},"encoding":{"x":{"datum":0},"y":{"datum":529}}},
{"mark":{"type":"text","text":"PF-3758309","style":"h17","dx":-50,"dy":-10},"encoding":{"x":{"datum":0},"y":{"datum":529}}},
{"mark":{"type":"text","text":"0","style":"h17","dx":60,"dy":-10},"encoding":{"x":{"datum":0},"y":{"datum":529}}},
{"mark":{"type":"text","text":"Meso1","style":"r17","dx":-33.7,"dy":-72},"encoding":{"x":{"datum":0},"y":{"datum":0}}}]},
{"layer":[{"data":{"name":"B2"},"mark":{"type":"area","fill":"#b4b4b4","stroke":"#555","strokeWidth":0.7},"encoding":{"x":{"field":"x","type":"quantitative","scale":{"domain":[0,1024],"range":[282,410.3],"nice":false},"axis":{"orient":"bottom","offset":-1367.7,"style":"hx","values":[0,200,400,600,800,1000],"title":"FL2-H"}},"y":{"field":"y","type":"quantitative","scale":{"domain":[0,283],"range":[419.3,291],"nice":false},"axis":{"orient":"left","offset":-282,"style":"hx","values":[0,50,100,150,200,250],"title":null}}}},
{"mark":{"type":"rect","fill":"transparent","stroke":"#aaa","strokeWidth":1.3},"encoding":{"x":{"datum":0},"x2":{"datum":1024},"y":{"datum":0},"y2":{"datum":283}}},
{"mark":{"type":"text","text":"0.625","style":"h17","dx":63,"dy":-10},"encoding":{"x":{"datum":0},"y":{"datum":283}}}]},
{"layer":[{"data":{"name":"B3"},"mark":{"type":"area","fill":"#b4b4b4","stroke":"#555","strokeWidth":0.7},"encoding":{"x":{"field":"x","type":"quantitative","scale":{"domain":[0,1024],"range":[446.4,574],"nice":false},"axis":{"orient":"bottom","offset":-1367.7,"style":"hx","values":[0,200,400,600,800,1000],"title":"FL2-H"}},"y":{"field":"y","type":"quantitative","scale":{"domain":[0,384],"range":[419.3,291],"nice":false},"axis":{"orient":"left","offset":-446.4,"style":"hx","values":[0,100,200,300],"title":null}}}},
{"mark":{"type":"rect","fill":"transparent","stroke":"#aaa","strokeWidth":1.3},"encoding":{"x":{"datum":0},"x2":{"datum":1024},"y":{"datum":0},"y2":{"datum":384}}},
{"mark":{"type":"text","text":"1.25","style":"h17","dx":58.6,"dy":-10},"encoding":{"x":{"datum":0},"y":{"datum":384}}}]},
{"layer":[{"data":{"name":"B4"},"mark":{"type":"area","fill":"#b4b4b4","stroke":"#555","strokeWidth":0.7},"encoding":{"x":{"field":"x","type":"quantitative","scale":{"domain":[0,1024],"range":[611.7,739.3],"nice":false},"axis":{"orient":"bottom","offset":-1367.7,"style":"hx","values":[0,200,400,600,800,1000],"title":"FL2-H"}},"y":{"field":"y","type":"quantitative","scale":{"domain":[0,473],"range":[419.3,291],"nice":false},"axis":{"orient":"left","offset":-611.7,"style":"hx","values":[0,100,200,300,400],"title":null}}}},
{"mark":{"type":"rect","fill":"transparent","stroke":"#aaa","strokeWidth":1.3},"encoding":{"x":{"datum":0},"x2":{"datum":1024},"y":{"datum":0},"y2":{"datum":473}}},
{"mark":{"type":"text","text":"2.5 µM\u00a0\u00a0\u00a030h","style":"h17","dx":86.3,"dy":-10},"encoding":{"x":{"datum":0},"y":{"datum":473}}}]},
{"layer":[{"data":{"name":"B5"},"mark":{"type":"area","fill":"#b4b4b4","stroke":"#555","strokeWidth":0.7},"encoding":{"x":{"field":"x","type":"quantitative","scale":{"domain":[0,1024],"range":[116.3,245],"nice":false},"axis":{"orient":"bottom","offset":-1201.7,"style":"hx","values":[0,200,400,600,800,1000],"title":"FL2-H"}},"y":{"field":"y","type":"quantitative","scale":{"domain":[0,496],"range":[585.3,456.3],"nice":false},"axis":{"orient":"left","offset":-116.3,"style":"hx","values":[0,100,200,300,400],"title":null}}}},
{"mark":{"type":"rect","fill":"transparent","stroke":"#aaa","strokeWidth":1.3},"encoding":{"x":{"datum":0},"x2":{"datum":1024},"y":{"datum":0},"y2":{"datum":496}}},
{"mark":{"type":"text","text":"Meso41","style":"r17","dx":-34.7,"dy":-68},"encoding":{"x":{"datum":0},"y":{"datum":0}}}]},
{"layer":[{"data":{"name":"B6"},"mark":{"type":"area","fill":"#b4b4b4","stroke":"#555","strokeWidth":0.7},"encoding":{"x":{"field":"x","type":"quantitative","scale":{"domain":[0,1024],"range":[282,410.7],"nice":false},"axis":{"orient":"bottom","offset":-1201.7,"style":"hx","values":[0,200,400,600,800,1000],"title":"FL2-H"}},"y":{"field":"y","type":"quantitative","scale":{"domain":[0,935],"range":[585.3,456.3],"nice":false},"axis":{"orient":"left","offset":-282,"style":"hx","values":[0,200,400,600,800],"title":null}}}},
{"mark":{"type":"rect","fill":"transparent","stroke":"#aaa","strokeWidth":1.3},"encoding":{"x":{"datum":0},"x2":{"datum":1024},"y":{"datum":0},"y2":{"datum":935}}}]},
{"layer":[{"data":{"name":"B7"},"mark":{"type":"area","fill":"#b4b4b4","stroke":"#555","strokeWidth":0.7},"encoding":{"x":{"field":"x","type":"quantitative","scale":{"domain":[0,1024],"range":[446.4,574.5],"nice":false},"axis":{"orient":"bottom","offset":-1201.7,"style":"hx","values":[0,200,400,600,800,1000],"title":"FL2-H"}},"y":{"field":"y","type":"quantitative","scale":{"domain":[0,835],"range":[585.3,456.3],"nice":false},"axis":{"orient":"left","offset":-446.4,"style":"hx","values":[0,200,400,600,800],"title":null}}}},
{"mark":{"type":"rect","fill":"transparent","stroke":"#aaa","strokeWidth":1.3},"encoding":{"x":{"datum":0},"x2":{"datum":1024},"y":{"datum":0},"y2":{"datum":835}}}]},
{"layer":[{"data":{"name":"B8"},"mark":{"type":"area","fill":"#b4b4b4","stroke":"#555","strokeWidth":0.7},"encoding":{"x":{"field":"x","type":"quantitative","scale":{"domain":[0,1024],"range":[611.7,739.8],"nice":false},"axis":{"orient":"bottom","offset":-1201.7,"style":"hx","values":[0,200,400,600,800,1000],"title":"FL2-H"}},"y":{"field":"y","type":"quantitative","scale":{"domain":[0,809],"range":[585.3,456.3],"nice":false},"axis":{"orient":"left","offset":-611.7,"style":"hx","values":[0,200,400,600,800],"title":null}}}},
{"mark":{"type":"rect","fill":"transparent","stroke":"#aaa","strokeWidth":1.3},"encoding":{"x":{"datum":0},"x2":{"datum":1024},"y":{"datum":0},"y2":{"datum":809}}}]},
{"data":{"name":"C1"},"layer":[
{"mark":{"type":"bar","stroke":"#333","strokeOpacity":0.4,"strokeWidth":0.6},"encoding":{"x":{"field":"c","type":"nominal","sort":null,"scale":{"type":"band","domain":["0","0.625","1.25","2.5 µM"],"range":[60.3,366.3],"paddingInner":0.33,"paddingOuter":0.165},"axis":{"orient":"bottom","offset":-984.7,"tickBand":"extent","style":"ax","title":null}},"y":{"field":"v","type":"quantitative","title":"Cell cycle","scale":{"domain":[0,80],"range":[802.3,628],"nice":false},"axis":{"orient":"left","offset":-60.3,"style":"cy","values":[0,10,20,30,40,50,60,70,80],"titleX":-34.8}},"xOffset":{"field":"s","type":"nominal","sort":null,"scale":{"domain":["G1","S","G2/M"]}},"color":{"field":"s","type":"nominal","scale":{"domain":["G1","S","G2/M"],"range":["#4f81bd","#c0504d","#9bbb59"]},"legend":{"orient":"none","legendX":358,"legendY":667.5,"title":null,"symbolType":"square","symbolSize":60,"symbolOpacity":1,"labelFontSize":12.5,"labelColor":"#333","rowPadding":8.5,"labelOffset":1}}}},
{"mark":{"type":"errorbar","color":"#222","ticks":{"size":4}},"encoding":{"x":{"field":"c","type":"nominal"},"xOffset":{"field":"s","type":"nominal"},"y":{"field":"lo","type":"quantitative","title":"Cell cycle"},"y2":{"field":"hi"}}},
{"data":{"values":[{}]},"mark":{"type":"text","text":"C","style":"h19","dx":-87.5},"encoding":{"x":{"datum":"0","type":"nominal"},"y":{"datum":80,"title":"Cell cycle"}}},
{"data":{"values":[{}]},"mark":{"type":"text","text":"Meso1","style":"lg","dx":28,"dy":19.7},"encoding":{"x":{"datum":"2.5 µM","type":"nominal"},"y":{"datum":80,"title":"Cell cycle"}}}
]},
{"data":{"name":"C2"},"layer":[
{"mark":{"type":"bar","stroke":"#333","strokeOpacity":0.4,"strokeWidth":0.6},"encoding":{"x":{"field":"c","type":"nominal","sort":null,"scale":{"type":"band","domain":["0","0.625","1.25","2.5 µM"],"range":[469.4,775.4],"paddingInner":0.33,"paddingOuter":0.165},"axis":{"orient":"bottom","offset":-985,"tickBand":"extent","style":"ax","title":null}},"y":{"field":"v","type":"quantitative","title":"Cell cycle","scale":{"domain":[0,70],"range":[802,630],"nice":false},"axis":{"orient":"left","offset":-469.4,"style":"cy","values":[0,10,20,30,40,50,60,70],"titleX":-36}},"xOffset":{"field":"s","type":"nominal","sort":null,"scale":{"domain":["G1","S","G2/M"]}},"color":{"field":"s","type":"nominal","scale":{"domain":["G1","S","G2/M"],"range":["#4f81bd","#c0504d","#9bbb59"]},"legend":{"orient":"none","legendX":748.5,"legendY":645,"title":null,"symbolType":"square","symbolSize":60,"symbolOpacity":1,"labelFontSize":12.5,"labelColor":"#333","rowPadding":8.5,"labelOffset":1}}}},
{"mark":{"type":"errorbar","color":"#222","ticks":{"size":4}},"encoding":{"x":{"field":"c","type":"nominal"},"xOffset":{"field":"s","type":"nominal"},"y":{"field":"lo","type":"quantitative","title":"Cell cycle"},"y2":{"field":"hi"}}},
{"data":{"values":[{}]},"mark":{"type":"text","text":"Meso41","style":"lg","dx":12,"dy":-3},"encoding":{"x":{"datum":"2.5 µM","type":"nominal"},"y":{"datum":70,"title":"Cell cycle"}}}
]},
{"data":{"values":[{"x":0.3,"x2":3.28,"y":80.4,"y2":78.1,"m":1.74,"t":"***"},{"x":0.3,"x2":2.27,"y":77.2,"y2":74.9,"m":1.28,"t":"**"},{"x":0.3,"x2":1.32,"y":74.3,"y2":72,"m":0.82,"t":"**"}]},"layer":[
{"mark":{"type":"rule","color":"#555","strokeWidth":1.2},"encoding":{"x":{"field":"x","type":"quantitative","scale":{"domain":[0,4],"range":[60.3,366.3]},"axis":null},"x2":{"field":"x2"},"y":{"field":"y","type":"quantitative","scale":{"domain":[0,80],"range":[802.3,628],"nice":false},"axis":null}}},
{"mark":{"type":"rule","color":"#555","strokeWidth":1.2},"encoding":{"x":{"field":"x","type":"quantitative"},"y":{"field":"y","type":"quantitative"},"y2":{"field":"y2"}}},
{"mark":{"type":"text","style":"sc","dy":-2},"encoding":{"x":{"field":"m","type":"quantitative"},"y":{"field":"y","type":"quantitative"},"text":{"field":"t"}}}]},
{"data":{"values":[{"x":0.27,"x2":3.25,"y":70.4,"y2":68.4,"m":1.76,"t":"***"},{"x":0.27,"x2":2.22,"y":67.7,"y2":65.7,"m":1.24,"t":"**"}]},"layer":[
{"mark":{"type":"rule","color":"#555","strokeWidth":1.2},"encoding":{"x":{"field":"x","type":"quantitative","scale":{"domain":[0,4],"range":[469.4,775.4]},"axis":null},"x2":{"field":"x2"},"y":{"field":"y","type":"quantitative","scale":{"domain":[0,70],"range":[802,630],"nice":false},"axis":null}}},
{"mark":{"type":"rule","color":"#555","strokeWidth":1.2},"encoding":{"x":{"field":"x","type":"quantitative"},"y":{"field":"y","type":"quantitative"},"y2":{"field":"y2"}}},
{"mark":{"type":"text","style":"sc","dy":-2},"encoding":{"x":{"field":"m","type":"quantitative"},"y":{"field":"y","type":"quantitative"},"text":{"field":"t"}}}]},
{"data":{"name":"D1"},"layer":[{"mark":{"type":"circle","opacity":0.75},"encoding":{"x":{"field":"x","type":"quantitative","scale":{"domain":[0,4],"range":[113.3,242.7]},"axis":{"orient":"bottom","offset":-794.3,"style":"hx","values":[0,1,2,3,4],"labelExpr":"'10'+['⁰','¹','²','³','⁴'][datum.value]","title":"FL2-H"}},"y":{"field":"y","type":"quantitative","scale":{"domain":[0,4],"range":[992.7,864.7]},"axis":{"orient":"left","offset":-113.3,"style":"hx","values":[0,1,2,3,4],"labelExpr":"'10'+['⁰','¹','²','³','⁴'][datum.value]","title":"FL1-H","titleX":-17.9}},"color":{"field":"d","type":"ordinal","scale":{"domain":[0,1,2,3,4,5],"range":["#e8e8fd","#a0a0f3","#5f5fee","#3a63dc","#1c96e0","#19d880"]},"legend":null},"size":{"field":"d","type":"quantitative","scale":{"domain":[0,1,2,3,4,5],"range":[420,3,7,55,36,18]},"legend":null}}},
{"data":{"values":[{"x":0.22,"y":3.85,"t":"1.45"},{"x":3.75,"y":3.85,"t":"1.71"},{"x":0.22,"y":0.12,"t":"95.8"},{"x":3.75,"y":0.12,"t":"1.04"}]},"mark":{"type":"text","style":"mg"},"encoding":{"x":{"field":"x","type":"quantitative"},"y":{"field":"y","type":"quantitative"},"text":{"field":"t"}}},
{"data":{"values":[{}]},"mark":{"type":"rule","color":"#f4a6f0","strokeWidth":1.3},"encoding":{"x":{"datum":0.816},"y":{"datum":0},"y2":{"datum":4}}},
{"data":{"values":[{}]},"mark":{"type":"rule","color":"#f4a6f0","strokeWidth":1.3},"encoding":{"x":{"datum":0},"x2":{"datum":4},"y":{"datum":1.42}}},
{"data":{"values":[{}]},"mark":{"type":"rect","fill":"transparent","stroke":"#aaa","strokeWidth":1.3},"encoding":{"x":{"datum":0},"x2":{"datum":4},"y":{"datum":0},"y2":{"datum":4}}},
{"data":{"values":[{}]},"mark":{"type":"text","text":"D","style":"h19","dx":-103.3,"dy":-16.7},"encoding":{"x":{"datum":0},"y":{"datum":4}}},
{"data":{"values":[{}]},"mark":{"type":"text","text":"PF-3758309","style":"h19","dx":-39.5,"dy":-16.7},"encoding":{"x":{"datum":0},"y":{"datum":4}}},
{"data":{"values":[{}]},"mark":{"type":"text","text":"2.5","style":"h17","dx":45.7,"dy":-16.7},"encoding":{"x":{"datum":0},"y":{"datum":4}}},
{"data":{"values":[{}]},"mark":{"type":"text","text":"Meso1","style":"r19","dx":-30.7,"dy":-60.7},"encoding":{"x":{"datum":0},"y":{"datum":0}}}]},
{"data":{"name":"D2"},"layer":[{"mark":{"type":"circle","opacity":0.75},"encoding":{"x":{"field":"x","type":"quantitative","scale":{"domain":[0,4],"range":[280.3,409]},"axis":{"orient":"bottom","offset":-794.3,"style":"hx","values":[0,1,2,3,4],"labelExpr":"'10'+['⁰','¹','²','³','⁴'][datum.value]","title":"FL2-H"}},"y":{"field":"y","type":"quantitative","scale":{"domain":[0,4],"range":[992.7,864.7]},"axis":{"orient":"left","offset":-280.3,"style":"hx","values":[0,1,2,3,4],"labelExpr":"'10'+['⁰','¹','²','³','⁴'][datum.value]","title":"FL1-H","titleX":-17.9}},"color":{"field":"d","type":"ordinal","scale":{"domain":[0,1,2,3,4,5],"range":["#e8e8fd","#a0a0f3","#5f5fee","#3a63dc","#1c96e0","#19d880"]},"legend":null},"size":{"field":"d","type":"quantitative","scale":{"domain":[0,1,2,3,4,5],"range":[420,3,7,55,36,18]},"legend":null}}},
{"data":{"values":[{"x":0.22,"y":3.85,"t":"3.78"},{"x":3.75,"y":3.85,"t":"1.95"},{"x":0.22,"y":0.12,"t":"93.5"},{"x":3.75,"y":0.12,"t":"0.76"}]},"mark":{"type":"text","style":"mg"},"encoding":{"x":{"field":"x","type":"quantitative"},"y":{"field":"y","type":"quantitative"},"text":{"field":"t"}}},
{"data":{"values":[{}]},"mark":{"type":"rule","color":"#f4a6f0","strokeWidth":1.3},"encoding":{"x":{"datum":0.82},"y":{"datum":0},"y2":{"datum":4}}},
{"data":{"values":[{}]},"mark":{"type":"rule","color":"#f4a6f0","strokeWidth":1.3},"encoding":{"x":{"datum":0},"x2":{"datum":4},"y":{"datum":1.5}}},
{"data":{"values":[{}]},"mark":{"type":"rect","fill":"transparent","stroke":"#aaa","strokeWidth":1.3},"encoding":{"x":{"datum":0},"x2":{"datum":4},"y":{"datum":0},"y2":{"datum":4}}},
{"data":{"values":[{}]},"mark":{"type":"text","text":"5","style":"h17","dx":54.7,"dy":-16.7},"encoding":{"x":{"datum":0},"y":{"datum":4}}}]},
{"data":{"name":"D3"},"layer":[{"mark":{"type":"circle","opacity":0.75},"encoding":{"x":{"field":"x","type":"quantitative","scale":{"domain":[0,4],"range":[445.4,574.5]},"axis":{"orient":"bottom","offset":-792.3,"style":"hx","values":[0,1,2,3,4],"labelExpr":"'10'+['⁰','¹','²','³','⁴'][datum.value]","title":"FL2-H"}},"y":{"field":"y","type":"quantitative","scale":{"domain":[0,4],"range":[994.7,866]},"axis":{"orient":"left","offset":-445.4,"style":"hx","values":[0,1,2,3,4],"labelExpr":"'10'+['⁰','¹','²','³','⁴'][datum.value]","title":"FL1-H","titleX":-17.9}},"color":{"field":"d","type":"ordinal","scale":{"domain":[0,1,2,3,4,5],"range":["#e8e8fd","#a0a0f3","#5f5fee","#3a63dc","#1c96e0","#19d880"]},"legend":null},"size":{"field":"d","type":"quantitative","scale":{"domain":[0,1,2,3,4,5],"range":[420,3,7,55,36,18]},"legend":null}}},
{"data":{"values":[{"x":0.22,"y":3.85,"t":"3.55"},{"x":3.75,"y":3.85,"t":"8.81"},{"x":0.22,"y":0.12,"t":"84.7"},{"x":3.75,"y":0.12,"t":"2.95"}]},"mark":{"type":"text","style":"mg"},"encoding":{"x":{"field":"x","type":"quantitative"},"y":{"field":"y","type":"quantitative"},"text":{"field":"t"}}},
{"data":{"values":[{}]},"mark":{"type":"rule","color":"#f4a6f0","strokeWidth":1.3},"encoding":{"x":{"datum":0.887},"y":{"datum":0},"y2":{"datum":4}}},
{"data":{"values":[{}]},"mark":{"type":"rule","color":"#f4a6f0","strokeWidth":1.3},"encoding":{"x":{"datum":0},"x2":{"datum":4},"y":{"datum":1.234}}},
{"data":{"values":[{}]},"mark":{"type":"rect","fill":"transparent","stroke":"#aaa","strokeWidth":1.3},"encoding":{"x":{"datum":0},"x2":{"datum":4},"y":{"datum":0},"y2":{"datum":4}}},
{"data":{"values":[{}]},"mark":{"type":"text","text":"10","style":"h17","dx":63.6,"dy":-18},"encoding":{"x":{"datum":0},"y":{"datum":4}}}]},
{"data":{"name":"D4"},"layer":[{"mark":{"type":"circle","opacity":0.75},"encoding":{"x":{"field":"x","type":"quantitative","scale":{"domain":[0,4],"range":[613.3,740.8]},"axis":{"orient":"bottom","offset":-793.7,"style":"hx","values":[0,1,2,3,4],"labelExpr":"'10'+['⁰','¹','²','³','⁴'][datum.value]","title":"FL2-H"}},"y":{"field":"y","type":"quantitative","scale":{"domain":[0,4],"range":[993.3,865]},"axis":{"orient":"left","offset":-613.3,"style":"hx","values":[0,1,2,3,4],"labelExpr":"'10'+['⁰','¹','²','³','⁴'][datum.value]","title":"FL1-H","titleX":-17.9}},"color":{"field":"d","type":"ordinal","scale":{"domain":[0,1,2,3,4,5],"range":["#e8e8fd","#a0a0f3","#5f5fee","#3a63dc","#1c96e0","#19d880"]},"legend":null},"size":{"field":"d","type":"quantitative","scale":{"domain":[0,1,2,3,4,5],"range":[420,3,7,55,36,18]},"legend":null}}},
{"data":{"values":[{"x":0.22,"y":3.85,"t":"3.71"},{"x":3.75,"y":3.85,"t":"15.3"},{"x":0.22,"y":0.12,"t":"75.2"},{"x":3.75,"y":0.12,"t":"5.87"}]},"mark":{"type":"text","style":"mg"},"encoding":{"x":{"field":"x","type":"quantitative"},"y":{"field":"y","type":"quantitative"},"text":{"field":"t"}}},
{"data":{"values":[{}]},"mark":{"type":"rule","color":"#f4a6f0","strokeWidth":1.3},"encoding":{"x":{"datum":0.8},"y":{"datum":0},"y2":{"datum":4}}},
{"data":{"values":[{}]},"mark":{"type":"rule","color":"#f4a6f0","strokeWidth":1.3},"encoding":{"x":{"datum":0},"x2":{"datum":4},"y":{"datum":1.266}}},
{"data":{"values":[{}]},"mark":{"type":"rect","fill":"transparent","stroke":"#aaa","strokeWidth":1.3},"encoding":{"x":{"datum":0},"x2":{"datum":4},"y":{"datum":0},"y2":{"datum":4}}},
{"data":{"values":[{}]},"mark":{"type":"text","text":"20\u00a0\u00a0uM\u00a0\u00a020h","style":"h17","dx":89.2,"dy":-17},"encoding":{"x":{"datum":0},"y":{"datum":4}}}]},
{"data":{"name":"D5"},"layer":[{"mark":{"type":"circle","opacity":0.75},"encoding":{"x":{"field":"x","type":"quantitative","scale":{"domain":[0,4],"range":[113.3,242.3]},"axis":{"orient":"bottom","offset":-626,"style":"hx","values":[0,1,2,3,4],"labelExpr":"'10'+['⁰','¹','²','³','⁴'][datum.value]","title":"FL2-H"}},"y":{"field":"y","type":"quantitative","scale":{"domain":[0,4],"range":[1161,1031.7]},"axis":{"orient":"left","offset":-113.3,"style":"hx","values":[0,1,2,3,4],"labelExpr":"'10'+['⁰','¹','²','³','⁴'][datum.value]","title":"FL1-H","titleX":-17.9}},"color":{"field":"d","type":"ordinal","scale":{"domain":[0,1,2,3,4,5],"range":["#e8e8fd","#a0a0f3","#5f5fee","#3a63dc","#1c96e0","#19d880"]},"legend":null},"size":{"field":"d","type":"quantitative","scale":{"domain":[0,1,2,3,4,5],"range":[420,3,7,55,36,18]},"legend":null}}},
{"data":{"values":[{"x":0.22,"y":3.85,"t":"0.91"},{"x":3.75,"y":3.85,"t":"2.14"},{"x":0.22,"y":0.12,"t":"94.7"},{"x":3.75,"y":0.12,"t":"2.25"}]},"mark":{"type":"text","style":"mg"},"encoding":{"x":{"field":"x","type":"quantitative"},"y":{"field":"y","type":"quantitative"},"text":{"field":"t"}}},
{"data":{"values":[{}]},"mark":{"type":"rule","color":"#f4a6f0","strokeWidth":1.3},"encoding":{"x":{"datum":0.74},"y":{"datum":0},"y2":{"datum":4}}},
{"data":{"values":[{}]},"mark":{"type":"rule","color":"#f4a6f0","strokeWidth":1.3},"encoding":{"x":{"datum":0},"x2":{"datum":4},"y":{"datum":1.57}}},
{"data":{"values":[{}]},"mark":{"type":"rect","fill":"transparent","stroke":"#aaa","strokeWidth":1.3},"encoding":{"x":{"datum":0},"x2":{"datum":4},"y":{"datum":0},"y2":{"datum":4}}},
{"data":{"values":[{}]},"mark":{"type":"text","text":"Meso41","style":"r19","dx":-31.7,"dy":-56},"encoding":{"x":{"datum":0},"y":{"datum":0}}}]},
{"data":{"name":"D6"},"layer":[{"mark":{"type":"circle","opacity":0.75},"encoding":{"x":{"field":"x","type":"quantitative","scale":{"domain":[0,4],"range":[280.6,409.7]},"axis":{"orient":"bottom","offset":-626,"style":"hx","values":[0,1,2,3,4],"labelExpr":"'10'+['⁰','¹','²','³','⁴'][datum.value]","title":"FL2-H"}},"y":{"field":"y","type":"quantitative","scale":{"domain":[0,4],"range":[1161,1031.7]},"axis":{"orient":"left","offset":-280.6,"style":"hx","values":[0,1,2,3,4],"labelExpr":"'10'+['⁰','¹','²','³','⁴'][datum.value]","title":"FL1-H","titleX":-17.9}},"color":{"field":"d","type":"ordinal","scale":{"domain":[0,1,2,3,4,5],"range":["#e8e8fd","#a0a0f3","#5f5fee","#3a63dc","#1c96e0","#19d880"]},"legend":null},"size":{"field":"d","type":"quantitative","scale":{"domain":[0,1,2,3,4,5],"range":[420,3,7,55,36,18]},"legend":null}}},
{"data":{"values":[{"x":0.22,"y":3.85,"t":"4.02"},{"x":3.75,"y":3.85,"t":"1.68"},{"x":0.22,"y":0.12,"t":"92.8"},{"x":3.75,"y":0.12,"t":"1.55"}]},"mark":{"type":"text","style":"mg"},"encoding":{"x":{"field":"x","type":"quantitative"},"y":{"field":"y","type":"quantitative"},"text":{"field":"t"}}},
{"data":{"values":[{}]},"mark":{"type":"rule","color":"#f4a6f0","strokeWidth":1.3},"encoding":{"x":{"datum":0.82},"y":{"datum":0},"y2":{"datum":4}}},
{"data":{"values":[{}]},"mark":{"type":"rule","color":"#f4a6f0","strokeWidth":1.3},"encoding":{"x":{"datum":0},"x2":{"datum":4},"y":{"datum":1.57}}},
{"data":{"values":[{}]},"mark":{"type":"rect","fill":"transparent","stroke":"#aaa","strokeWidth":1.3},"encoding":{"x":{"datum":0},"x2":{"datum":4},"y":{"datum":0},"y2":{"datum":4}}}]},
{"data":{"name":"D7"},"layer":[{"mark":{"type":"circle","opacity":0.75},"encoding":{"x":{"field":"x","type":"quantitative","scale":{"domain":[0,4],"range":[445.4,574.5]},"axis":{"orient":"bottom","offset":-626,"style":"hx","values":[0,1,2,3,4],"labelExpr":"'10'+['⁰','¹','²','³','⁴'][datum.value]","title":"FL2-H"}},"y":{"field":"y","type":"quantitative","scale":{"domain":[0,4],"range":[1161,1032]},"axis":{"orient":"left","offset":-445.4,"style":"hx","values":[0,1,2,3,4],"labelExpr":"'10'+['⁰','¹','²','³','⁴'][datum.value]","title":"FL1-H","titleX":-17.9}},"color":{"field":"d","type":"ordinal","scale":{"domain":[0,1,2,3,4,5],"range":["#e8e8fd","#a0a0f3","#5f5fee","#3a63dc","#1c96e0","#19d880"]},"legend":null},"size":{"field":"d","type":"quantitative","scale":{"domain":[0,1,2,3,4,5],"range":[420,3,7,55,36,18]},"legend":null}}},
{"data":{"values":[{"x":0.22,"y":3.85,"t":"1.49"},{"x":3.75,"y":3.85,"t":"8.63"},{"x":0.22,"y":0.12,"t":"85.8"},{"x":3.75,"y":0.12,"t":"4.04"}]},"mark":{"type":"text","style":"mg"},"encoding":{"x":{"field":"x","type":"quantitative"},"y":{"field":"y","type":"quantitative"},"text":{"field":"t"}}},
{"data":{"values":[{}]},"mark":{"type":"rule","color":"#f4a6f0","strokeWidth":1.3},"encoding":{"x":{"datum":1.2},"y":{"datum":0},"y2":{"datum":4}}},
{"data":{"values":[{}]},"mark":{"type":"rule","color":"#f4a6f0","strokeWidth":1.3},"encoding":{"x":{"datum":0},"x2":{"datum":4},"y":{"datum":1.37}}},
{"data":{"values":[{}]},"mark":{"type":"rect","fill":"transparent","stroke":"#aaa","strokeWidth":1.3},"encoding":{"x":{"datum":0},"x2":{"datum":4},"y":{"datum":0},"y2":{"datum":4}}}]},
{"data":{"name":"D8"},"layer":[{"mark":{"type":"circle","opacity":0.75},"encoding":{"x":{"field":"x","type":"quantitative","scale":{"domain":[0,4],"range":[613.3,740.8]},"axis":{"orient":"bottom","offset":-626,"style":"hx","values":[0,1,2,3,4],"labelExpr":"'10'+['⁰','¹','²','³','⁴'][datum.value]","title":"FL2-H"}},"y":{"field":"y","type":"quantitative","scale":{"domain":[0,4],"range":[1161,1032]},"axis":{"orient":"left","offset":-613.3,"style":"hx","values":[0,1,2,3,4],"labelExpr":"'10'+['⁰','¹','²','³','⁴'][datum.value]","title":"FL1-H","titleX":-17.9}},"color":{"field":"d","type":"ordinal","scale":{"domain":[0,1,2,3,4,5],"range":["#e8e8fd","#a0a0f3","#5f5fee","#3a63dc","#1c96e0","#19d880"]},"legend":null},"size":{"field":"d","type":"quantitative","scale":{"domain":[0,1,2,3,4,5],"range":[420,3,7,55,36,18]},"legend":null}}},
{"data":{"values":[{"x":0.22,"y":3.85,"t":"1.31"},{"x":3.75,"y":3.85,"t":"15.1"},{"x":0.22,"y":0.12,"t":"78.3"},{"x":3.75,"y":0.12,"t":"5.3"}]},"mark":{"type":"text","style":"mg"},"encoding":{"x":{"field":"x","type":"quantitative"},"y":{"field":"y","type":"quantitative"},"text":{"field":"t"}}},
{"data":{"values":[{}]},"mark":{"type":"rule","color":"#f4a6f0","strokeWidth":1.3},"encoding":{"x":{"datum":0.96},"y":{"datum":0},"y2":{"datum":4}}},
{"data":{"values":[{}]},"mark":{"type":"rule","color":"#f4a6f0","strokeWidth":1.3},"encoding":{"x":{"datum":0},"x2":{"datum":4},"y":{"datum":1.25}}},
{"data":{"values":[{}]},"mark":{"type":"rect","fill":"transparent","stroke":"#aaa","strokeWidth":1.3},"encoding":{"x":{"datum":0},"x2":{"datum":4},"y":{"datum":0},"y2":{"datum":4}}}]},
{"data":{"name":"E"},"layer":[
{"mark":{"type":"bar","stroke":"#333","strokeOpacity":0.4,"strokeWidth":0.6},"encoding":{"x":{"field":"c","type":"nominal","sort":null,"scale":{"type":"band","domain":["Meso1","Meso41"],"range":[63.3,340.8],"paddingInner":0.24,"paddingOuter":0.12},"axis":{"orient":"bottom","offset":-371.7,"tickBand":"extent","style":"ax","title":null}},"y":{"field":"v","type":"quantitative","title":"Cell survival","scale":{"domain":[50,100],"range":[1415.3,1223.3],"nice":false},"axis":{"orient":"left","offset":-63.3,"style":"ey","values":[50,60,70,80,90,100],"titleX":-40}},"y2":{"datum":50},"xOffset":{"field":"s","type":"nominal","sort":null,"scale":{"domain":["0","2.5","5","10","20 µM"]}},"color":{"field":"s","type":"nominal","scale":{"domain":["0","2.5","5","10","20 µM"],"range":["#4f81bd","#c0504d","#9bbb59","#8064a2","#4bacc6"]},"legend":{"orient":"none","legendX":345,"legendY":1249.5,"title":null,"symbolType":"square","symbolSize":60,"symbolOpacity":1,"labelFontSize":13,"labelColor":"#333","rowPadding":8,"labelOffset":1}}}},
{"mark":{"type":"errorbar","color":"#222","ticks":{"size":4}},"encoding":{"x":{"field":"c","type":"nominal"},"xOffset":{"field":"s","type":"nominal"},"y":{"field":"lo","type":"quantitative","title":"Cell survival"},"y2":{"field":"hi"}}},
{"data":{"values":[{}]},"mark":{"type":"text","text":"E","style":"h19","dx":-124,"dy":-21},"encoding":{"x":{"datum":"Meso1","type":"nominal"},"y":{"datum":100,"title":"Cell survival"}}}
]},
{"data":{"values":[{"x":0.221,"x2":0.875,"y":104.5,"y2":103.1,"m":0.57,"t":"****"},{"x":0.221,"x2":0.675,"y":101.7,"y2":100.3,"m":0.48,"t":"***"},{"x":1.176,"x2":1.83,"y":104.5,"y2":103.1,"m":1.51,"t":"***"},{"x":1.176,"x2":1.632,"y":101.7,"y2":100.3,"m":1.42,"t":"**"}]},"layer":[
{"mark":{"type":"rule","color":"#111","strokeWidth":1.6},"encoding":{"x":{"field":"x","type":"quantitative","scale":{"domain":[0,2],"range":[63.3,340.8]},"axis":null},"x2":{"field":"x2"},"y":{"field":"y","type":"quantitative","scale":{"domain":[50,100],"range":[1415.3,1223.3],"nice":false},"axis":null}}},
{"mark":{"type":"rule","color":"#111","strokeWidth":1.6},"encoding":{"x":{"field":"x","type":"quantitative"},"y":{"field":"y","type":"quantitative"},"y2":{"field":"y2"}}},
{"mark":{"type":"rule","color":"#111","strokeWidth":1.6},"encoding":{"x":{"field":"x2","type":"quantitative"},"y":{"field":"y","type":"quantitative"},"y2":{"field":"y2"}}},
{"mark":{"type":"text","style":"st","dy":-4},"encoding":{"x":{"field":"m","type":"quantitative"},"y":{"field":"y","type":"quantitative"},"text":{"field":"t"}}}]},
{"data":{"name":"G"},"layer":[
{"mark":{"type":"bar","stroke":"#333","strokeOpacity":0.4,"strokeWidth":0.6},"encoding":{"x":{"field":"c","type":"nominal","sort":null,"scale":{"type":"band","domain":["Meso1","Meso41"],"range":[468.4,751.5],"paddingInner":0.23,"paddingOuter":0.115},"axis":{"orient":"bottom","offset":-372,"tickBand":"extent","style":"ax","title":null}},"y":{"field":"v","type":"quantitative","title":"Sub-G1 percentage","scale":{"domain":[0,60],"range":[1415,1223.3],"nice":false},"axis":{"orient":"left","offset":-468.4,"style":"ey","values":[0,10,20,30,40,50,60],"titleX":-41}},"xOffset":{"field":"s","type":"nominal","sort":null,"scale":{"domain":["0","2.5","5","10","20 µM"]}},"color":{"field":"s","type":"nominal","scale":{"domain":["0","2.5","5","10","20 µM"],"range":["#4f81bd","#c0504d","#9bbb59","#8064a2","#4bacc6"]},"legend":{"orient":"none","legendX":748,"legendY":1249,"title":null,"symbolType":"square","symbolSize":60,"symbolOpacity":1,"labelFontSize":13,"labelColor":"#333","rowPadding":8,"labelOffset":1}}}},
{"mark":{"type":"errorbar","color":"#222","ticks":{"size":4}},"encoding":{"x":{"field":"c","type":"nominal"},"xOffset":{"field":"s","type":"nominal"},"y":{"field":"lo","type":"quantitative","title":"Sub-G1 percentage"},"y2":{"field":"hi"}}},
{"data":{"values":[{}]},"mark":{"type":"text","text":"G","style":"h19","dx":-118,"dy":-20},"encoding":{"x":{"datum":"Meso1","type":"nominal"},"y":{"datum":60,"title":"Sub-G1 percentage"}}}
]},
{"data":{"values":[{"x":0.205,"x2":0.847,"y":52.9,"y2":51.2,"m":0.55,"t":"****"},{"x":0.205,"x2":0.656,"y":49.8,"y2":48.1,"m":0.44,"t":"****"},{"x":1.178,"x2":1.817,"y":55.1,"y2":53.4,"m":1.5,"t":"****"},{"x":1.178,"x2":1.622,"y":51.9,"y2":50.2,"m":1.4,"t":"****"}]},"layer":[
{"mark":{"type":"rule","color":"#111","strokeWidth":1.6},"encoding":{"x":{"field":"x","type":"quantitative","scale":{"domain":[0,2],"range":[468.4,751.5]},"axis":null},"x2":{"field":"x2"},"y":{"field":"y","type":"quantitative","scale":{"domain":[0,60],"range":[1415,1223.3],"nice":false},"axis":null}}},
{"mark":{"type":"rule","color":"#111","strokeWidth":1.6},"encoding":{"x":{"field":"x","type":"quantitative"},"y":{"field":"y","type":"quantitative"},"y2":{"field":"y2"}}},
{"mark":{"type":"rule","color":"#111","strokeWidth":1.6},"encoding":{"x":{"field":"x2","type":"quantitative"},"y":{"field":"y","type":"quantitative"},"y2":{"field":"y2"}}},
{"mark":{"type":"text","style":"st","dy":-4},"encoding":{"x":{"field":"m","type":"quantitative"},"y":{"field":"y","type":"quantitative"},"text":{"field":"t"}}}]},
{"layer":[{"data":{"name":"F1"},"mark":{"type":"area","fill":"#b4b4b4","stroke":"#555","strokeWidth":0.7},"encoding":{"x":{"field":"x","type":"quantitative","scale":{"domain":[0,1024],"range":[114.3,243.9],"nice":false},"axis":{"orient":"bottom","offset":-186.7,"style":"hx","values":[0,200,400,600,800,1000],"title":"FL2-H"}},"y":{"field":"y","type":"quantitative","scale":{"domain":[0,284],"range":[1600.3,1470.7],"nice":false},"axis":{"orient":"left","offset":-114.3,"style":"hx","values":[0,50,100,150,200,250],"title":null}}}},
{"mark":{"type":"rect","fill":"transparent","stroke":"#aaa","strokeWidth":1.3},"encoding":{"x":{"datum":0},"x2":{"datum":1024},"y":{"datum":0},"y2":{"datum":284}}},
{"data":{"values":[{"x":16,"x2":153,"m":85,"y":72,"t":"3.56"},{"x":165,"x2":395,"m":280,"y":42,"t":"82.3"}]},"layer":[{"mark":{"type":"rule","color":"#333","strokeWidth":1.5},"encoding":{"x":{"field":"x","type":"quantitative"},"x2":{"field":"x2"},"y":{"field":"y","type":"quantitative"}}},{"mark":{"type":"text","style":"gt","dy":-7},"encoding":{"x":{"field":"m","type":"quantitative"},"y":{"field":"y","type":"quantitative"},"text":{"field":"t"}}}]},
{"mark":{"type":"text","text":"3.56%","style":"pc","dx":5,"dy":9},"encoding":{"x":{"datum":0},"y":{"datum":284}}},
{"mark":{"type":"text","text":"F","style":"h19","dx":-106.3,"dy":-11.7},"encoding":{"x":{"datum":0},"y":{"datum":284}}},
{"mark":{"type":"text","text":"PF-3758309","style":"h19","dx":-24.3,"dy":-11.7},"encoding":{"x":{"datum":0},"y":{"datum":284}}},
{"mark":{"type":"text","text":"2.5","style":"h17","dx":62.2,"dy":-11.7},"encoding":{"x":{"datum":0},"y":{"datum":284}}},
{"mark":{"type":"text","text":"Meso1","style":"r19","dx":-33.3,"dy":-66.3},"encoding":{"x":{"datum":0},"y":{"datum":0}}}]},
{"layer":[{"data":{"name":"F2"},"mark":{"type":"area","fill":"#b4b4b4","stroke":"#555","strokeWidth":0.7},"encoding":{"x":{"field":"x","type":"quantitative","scale":{"domain":[0,1024],"range":[282,411.2],"nice":false},"axis":{"orient":"bottom","offset":-186.7,"style":"hx","values":[0,200,400,600,800,1000],"title":"FL2-H"}},"y":{"field":"y","type":"quantitative","scale":{"domain":[0,260],"range":[1600.3,1470.7],"nice":false},"axis":{"orient":"left","offset":-282,"style":"hx","values":[0,50,100,150,200,250],"title":null}}}},
{"mark":{"type":"rect","fill":"transparent","stroke":"#aaa","strokeWidth":1.3},"encoding":{"x":{"datum":0},"x2":{"datum":1024},"y":{"datum":0},"y2":{"datum":260}}},
{"data":{"values":[{"x":20,"x2":140,"m":80,"y":28,"t":"3.5"},{"x":147,"x2":390,"m":265,"y":27,"t":"86"}]},"layer":[{"mark":{"type":"rule","color":"#333","strokeWidth":1.5},"encoding":{"x":{"field":"x","type":"quantitative"},"x2":{"field":"x2"},"y":{"field":"y","type":"quantitative"}}},{"mark":{"type":"text","style":"gt","dy":-7},"encoding":{"x":{"field":"m","type":"quantitative"},"y":{"field":"y","type":"quantitative"},"text":{"field":"t"}}}]},
{"mark":{"type":"text","text":"3.5%","style":"pc","dx":4,"dy":9},"encoding":{"x":{"datum":0},"y":{"datum":260}}},
{"mark":{"type":"text","text":"5","style":"h17","dx":62,"dy":-11.7},"encoding":{"x":{"datum":0},"y":{"datum":260}}}]},
{"layer":[{"data":{"name":"F3"},"mark":{"type":"area","fill":"#b4b4b4","stroke":"#555","strokeWidth":0.7},"encoding":{"x":{"field":"x","type":"quantitative","scale":{"domain":[0,1024],"range":[444.4,573.5],"nice":false},"axis":{"orient":"bottom","offset":-188.3,"style":"hx","values":[0,200,400,600,800,1000],"title":"FL2-H"}},"y":{"field":"y","type":"quantitative","scale":{"domain":[0,261],"range":[1598.7,1469.3],"nice":false},"axis":{"orient":"left","offset":-444.4,"style":"hx","values":[0,50,100,150,200,250],"title":null}}}},
{"mark":{"type":"rect","fill":"transparent","stroke":"#aaa","strokeWidth":1.3},"encoding":{"x":{"datum":0},"x2":{"datum":1024},"y":{"datum":0},"y2":{"datum":261}}},
{"data":{"values":[{"x":25,"x2":165,"m":95,"y":111,"t":"27.5"}]},"layer":[{"mark":{"type":"rule","color":"#333","strokeWidth":1.5},"encoding":{"x":{"field":"x","type":"quantitative"},"x2":{"field":"x2"},"y":{"field":"y","type":"quantitative"}}},{"mark":{"type":"text","style":"gt","dy":-7},"encoding":{"x":{"field":"m","type":"quantitative"},"y":{"field":"y","type":"quantitative"},"text":{"field":"t"}}}]},
{"mark":{"type":"text","text":"27.5%","style":"pc","dx":3,"dy":9.7},"encoding":{"x":{"datum":0},"y":{"datum":261}}},
{"mark":{"type":"text","text":"10","style":"h17","dx":63.2,"dy":-10.3},"encoding":{"x":{"datum":0},"y":{"datum":261}}}]},
{"layer":[{"data":{"name":"F4"},"mark":{"type":"area","fill":"#b4b4b4","stroke":"#555","strokeWidth":0.7},"encoding":{"x":{"field":"x","type":"quantitative","scale":{"domain":[0,1024],"range":[610.2,738.8],"nice":false},"axis":{"orient":"bottom","offset":-188.3,"style":"hx","values":[0,200,400,600,800,1000],"title":"FL2-H"}},"y":{"field":"y","type":"quantitative","scale":{"domain":[0,200],"range":[1598.7,1469.3],"nice":false},"axis":{"orient":"left","offset":-610.2,"style":"hx","values":[0,50,100,150],"title":null}}}},
{"mark":{"type":"rect","fill":"transparent","stroke":"#aaa","strokeWidth":1.3},"encoding":{"x":{"datum":0},"x2":{"datum":1024},"y":{"datum":0},"y2":{"datum":200}}},
{"data":{"values":[{"x":25,"x2":205,"m":115,"y":85,"t":"45.2"}]},"layer":[{"mark":{"type":"rule","color":"#333","strokeWidth":1.5},"encoding":{"x":{"field":"x","type":"quantitative"},"x2":{"field":"x2"},"y":{"field":"y","type":"quantitative"}}},{"mark":{"type":"text","style":"gt","dy":-7},"encoding":{"x":{"field":"m","type":"quantitative"},"y":{"field":"y","type":"quantitative"},"text":{"field":"t"}}}]},
{"mark":{"type":"text","text":"45.2%","style":"pc","dx":3.6,"dy":9.7},"encoding":{"x":{"datum":0},"y":{"datum":200}}},
{"mark":{"type":"text","text":"20\u00a0\u00a0uM\u00a0\u00a020h","style":"h17","dx":87.8,"dy":-10.3},"encoding":{"x":{"datum":0},"y":{"datum":200}}}]},
{"layer":[{"data":{"name":"F5"},"mark":{"type":"area","fill":"#b4b4b4","stroke":"#555","strokeWidth":0.7},"encoding":{"x":{"field":"x","type":"quantitative","scale":{"domain":[0,1024],"range":[114.3,243.9],"nice":false},"axis":{"orient":"bottom","offset":-22,"style":"hx","values":[0,200,400,600,800,1000],"title":"FL2-H"}},"y":{"field":"y","type":"quantitative","scale":{"domain":[0,839],"range":[1765,1636],"nice":false},"axis":{"orient":"left","offset":-114.3,"style":"hx","values":[0,200,400,600,800],"title":null}}}},
{"mark":{"type":"rect","fill":"transparent","stroke":"#aaa","strokeWidth":1.3},"encoding":{"x":{"datum":0},"x2":{"datum":1024},"y":{"datum":0},"y2":{"datum":839}}},
{"data":{"values":[{"x":25,"x2":150,"m":87,"y":141,"t":"1.21"},{"x":165,"x2":415,"m":290,"y":104,"t":"83.6"}]},"layer":[{"mark":{"type":"rule","color":"#333","strokeWidth":1.5},"encoding":{"x":{"field":"x","type":"quantitative"},"x2":{"field":"x2"},"y":{"field":"y","type":"quantitative"}}},{"mark":{"type":"text","style":"gt","dy":-7},"encoding":{"x":{"field":"m","type":"quantitative"},"y":{"field":"y","type":"quantitative"},"text":{"field":"t"}}}]},
{"mark":{"type":"text","text":"1.21%","style":"pc","dx":4,"dy":8},"encoding":{"x":{"datum":0},"y":{"datum":839}}},
{"mark":{"type":"text","text":"Meso41","style":"r19","dx":-31.3,"dy":-63},"encoding":{"x":{"datum":0},"y":{"datum":0}}}]},
{"layer":[{"data":{"name":"F6"},"mark":{"type":"area","fill":"#b4b4b4","stroke":"#555","strokeWidth":0.7},"encoding":{"x":{"field":"x","type":"quantitative","scale":{"domain":[0,1024],"range":[282,411.2],"nice":false},"axis":{"orient":"bottom","offset":-22,"style":"hx","values":[0,200,400,600,800,1000],"title":"FL2-H"}},"y":{"field":"y","type":"quantitative","scale":{"domain":[0,548],"range":[1765,1636],"nice":false},"axis":{"orient":"left","offset":-282,"style":"hx","values":[0,100,200,300,400,500],"title":null}}}},
{"mark":{"type":"rect","fill":"transparent","stroke":"#aaa","strokeWidth":1.3},"encoding":{"x":{"datum":0},"x2":{"datum":1024},"y":{"datum":0},"y2":{"datum":548}}},
{"data":{"values":[{"x":28,"x2":140,"m":85,"y":55,"t":"2.32"},{"x":150,"x2":405,"m":275,"y":62,"t":"88.2"}]},"layer":[{"mark":{"type":"rule","color":"#333","strokeWidth":1.5},"encoding":{"x":{"field":"x","type":"quantitative"},"x2":{"field":"x2"},"y":{"field":"y","type":"quantitative"}}},{"mark":{"type":"text","style":"gt","dy":-7},"encoding":{"x":{"field":"m","type":"quantitative"},"y":{"field":"y","type":"quantitative"},"text":{"field":"t"}}}]},
{"mark":{"type":"text","text":"2.32%","style":"pc","dx":4.7,"dy":8},"encoding":{"x":{"datum":0},"y":{"datum":548}}}]},
{"layer":[{"data":{"name":"F7"},"mark":{"type":"area","fill":"#b4b4b4","stroke":"#555","strokeWidth":0.7},"encoding":{"x":{"field":"x","type":"quantitative","scale":{"domain":[0,1024],"range":[444.4,573.5],"nice":false},"axis":{"orient":"bottom","offset":-23.3,"style":"hx","values":[0,200,400,600,800,1000],"title":"FL2-H"}},"y":{"field":"y","type":"quantitative","scale":{"domain":[0,272.6],"range":[1763.7,1634.3],"nice":false},"axis":{"orient":"left","offset":-444.4,"style":"hx","values":[0,50,100,150,200,250],"title":null}}}},
{"mark":{"type":"rect","fill":"transparent","stroke":"#aaa","strokeWidth":1.3},"encoding":{"x":{"datum":0},"x2":{"datum":1024},"y":{"datum":0},"y2":{"datum":272.6}}},
{"data":{"values":[{"x":25,"x2":165,"m":95,"y":144,"t":"31.9"}]},"layer":[{"mark":{"type":"rule","color":"#333","strokeWidth":1.5},"encoding":{"x":{"field":"x","type":"quantitative"},"x2":{"field":"x2"},"y":{"field":"y","type":"quantitative"}}},{"mark":{"type":"text","style":"gt","dy":-7},"encoding":{"x":{"field":"m","type":"quantitative"},"y":{"field":"y","type":"quantitative"},"text":{"field":"t"}}}]},
{"mark":{"type":"text","text":"31.9%","style":"pc","dx":2,"dy":9.7},"encoding":{"x":{"datum":0},"y":{"datum":272.6}}}]},
{"layer":[{"data":{"name":"F8"},"mark":{"type":"area","fill":"#b4b4b4","stroke":"#555","strokeWidth":0.7},"encoding":{"x":{"field":"x","type":"quantitative","scale":{"domain":[0,1024],"range":[610.2,738.8],"nice":false},"axis":{"orient":"bottom","offset":-23.3,"style":"hx","values":[0,200,400,600,800,1000],"title":"FL2-H"}},"y":{"field":"y","type":"quantitative","scale":{"domain":[0,197],"range":[1763.7,1634.3],"nice":false},"axis":{"orient":"left","offset":-610.2,"style":"hx","values":[0,50,100,150],"title":null}}}},
{"mark":{"type":"rect","fill":"transparent","stroke":"#aaa","strokeWidth":1.3},"encoding":{"x":{"datum":0},"x2":{"datum":1024},"y":{"datum":0},"y2":{"datum":197}}},
{"data":{"values":[{"x":16,"x2":210,"m":113,"y":63.5,"t":"49.9"}]},"layer":[{"mark":{"type":"rule","color":"#333","strokeWidth":1.5},"encoding":{"x":{"field":"x","type":"quantitative"},"x2":{"field":"x2"},"y":{"field":"y","type":"quantitative"}}},{"mark":{"type":"text","style":"gt","dy":-7},"encoding":{"x":{"field":"m","type":"quantitative"},"y":{"field":"y","type":"quantitative"},"text":{"field":"t"}}}]},
{"mark":{"type":"text","text":"49.9%","style":"pc","dx":4.6,"dy":9.7},"encoding":{"x":{"datum":0},"y":{"datum":197}}}]}
]}
